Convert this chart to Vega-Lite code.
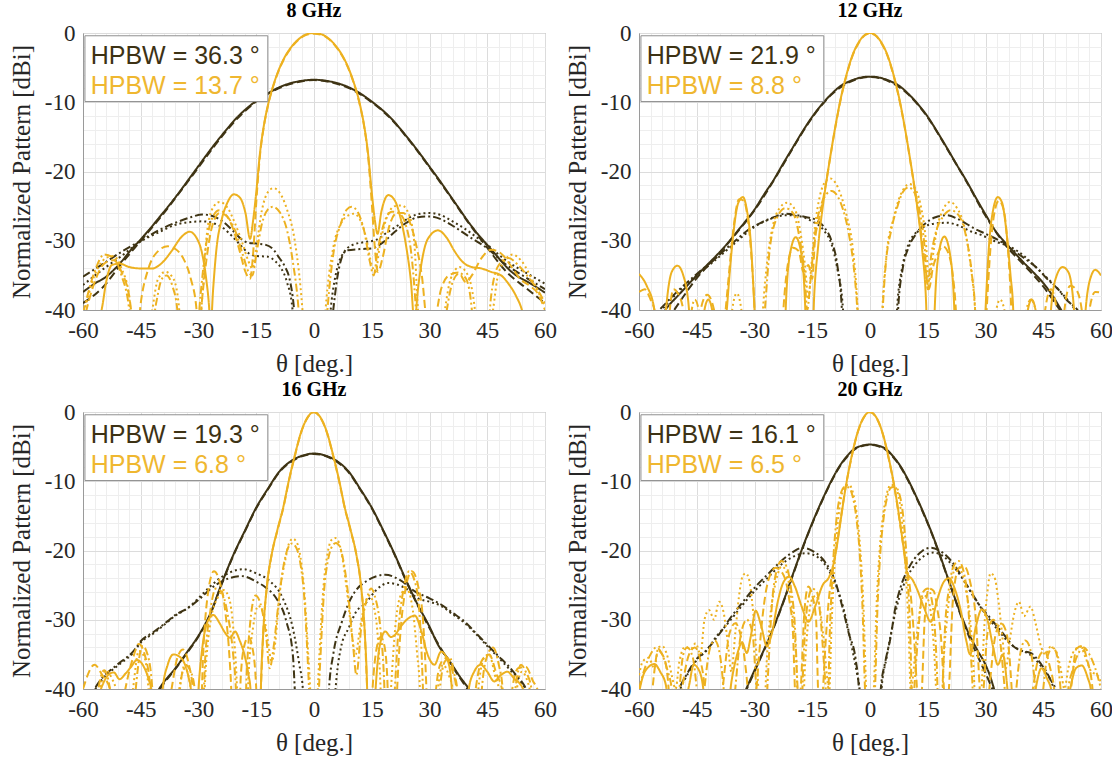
{
"$schema":"https://vega.github.io/schema/vega-lite/v6.json",
"background":"white",
"padding":{"left":8,"top":0,"right":2,"bottom":0},
"config":{"view":{"stroke":"#9a9a9a","strokeWidth":1},
"axis":{"labelFont":"Liberation Serif","labelFontSize":23,"titleFont":"Liberation Serif","titleFontSize":25,"titleFontWeight":"normal","labelColor":"#262626","titleColor":"#262626","domainColor":"#9a9a9a","ticks":false,"gridColor":"#dcdcdc","labelFlush":false,"labelOverlap":false},
"header":{"labelFont":"Liberation Serif","labelFontSize":20,"labelFontWeight":"bold","labelColor":"#000000","labelPadding":1,"title":null}},
"data":{"values":[
{"p":8,"s":"L1","txt":"HPBW = 36.3 °"},{"p":8,"s":"L2","txt":"HPBW = 13.7 °"},
{"p":12,"s":"L1","txt":"HPBW = 21.9 °"},{"p":12,"s":"L2","txt":"HPBW = 8.8 °"},
{"p":16,"s":"L1","txt":"HPBW = 19.3 °"},{"p":16,"s":"L2","txt":"HPBW = 6.8 °"},
{"p":20,"s":"L1","txt":"HPBW = 16.1 °"},{"p":20,"s":"L2","txt":"HPBW = 6.5 °"},

{"p":8,"s":"a","t":-60,"v":-37.4},{"p":8,"s":"a","t":-57,"v":-36.2},{"p":8,"s":"a","t":-54,"v":-35.2},{"p":8,"s":"a","t":-52,"v":-34.2},{"p":8,"s":"a","t":-50,"v":-33},{"p":8,"s":"a","t":-47.5,"v":-31.3},{"p":8,"s":"a","t":-45,"v":-29.8},{"p":8,"s":"a","t":-42.5,"v":-28.2},{"p":8,"s":"a","t":-40,"v":-26.5},{"p":8,"s":"a","t":-37.5,"v":-24.8},{"p":8,"s":"a","t":-35,"v":-23},{"p":8,"s":"a","t":-32.5,"v":-21.1},{"p":8,"s":"a","t":-30,"v":-19.2},{"p":8,"s":"a","t":-27.5,"v":-17.3},{"p":8,"s":"a","t":-25,"v":-15.5},{"p":8,"s":"a","t":-22.5,"v":-13.8},{"p":8,"s":"a","t":-20,"v":-12.2},{"p":8,"s":"a","t":-17.5,"v":-10.9},{"p":8,"s":"a","t":-15,"v":-9.8},{"p":8,"s":"a","t":-12.5,"v":-8.9},{"p":8,"s":"a","t":-10,"v":-8.1},{"p":8,"s":"a","t":-7.5,"v":-7.5},{"p":8,"s":"a","t":-5,"v":-7.1},{"p":8,"s":"a","t":-2.5,"v":-6.85},{"p":8,"s":"a","t":0,"v":-6.75},{"p":8,"s":"a","t":2.5,"v":-6.85},{"p":8,"s":"a","t":5,"v":-7.1},{"p":8,"s":"a","t":7.5,"v":-7.5},{"p":8,"s":"a","t":10,"v":-8.1},{"p":8,"s":"a","t":12.5,"v":-8.9},{"p":8,"s":"a","t":15,"v":-9.9},{"p":8,"s":"a","t":17.5,"v":-11},{"p":8,"s":"a","t":20,"v":-12.3},{"p":8,"s":"a","t":22.5,"v":-13.9},{"p":8,"s":"a","t":25,"v":-15.6},{"p":8,"s":"a","t":27.5,"v":-17.4},{"p":8,"s":"a","t":30,"v":-19.3},{"p":8,"s":"a","t":32.5,"v":-21.2},{"p":8,"s":"a","t":35,"v":-23.2},{"p":8,"s":"a","t":37.5,"v":-25.2},{"p":8,"s":"a","t":40,"v":-27.2},{"p":8,"s":"a","t":42.5,"v":-29},{"p":8,"s":"a","t":45,"v":-30.6},{"p":8,"s":"a","t":47.5,"v":-32.2},{"p":8,"s":"a","t":50,"v":-33.8},{"p":8,"s":"a","t":52.5,"v":-35},{"p":8,"s":"a","t":55,"v":-35.8},{"p":8,"s":"a","t":57.5,"v":-36.6},{"p":8,"s":"a","t":60,"v":-37.5},

{"p":8,"s":"b","t":-60,"v":-39},{"p":8,"s":"b","t":-55,"v":-36.8},{"p":8,"s":"b","t":-50,"v":-33.3},{"p":8,"s":"b","t":-45,"v":-30},{"p":8,"s":"b","t":-40,"v":-26.7},{"p":8,"s":"b","t":-35,"v":-23.1},{"p":8,"s":"b","t":-30,"v":-19.4},{"p":8,"s":"b","t":-25,"v":-15.7},{"p":8,"s":"b","t":-20,"v":-12.4},{"p":8,"s":"b","t":-15,"v":-9.9},{"p":8,"s":"b","t":-10,"v":-8.2},{"p":8,"s":"b","t":-5,"v":-7.2},{"p":8,"s":"b","t":0,"v":-6.8},{"p":8,"s":"b","t":5,"v":-7.2},{"p":8,"s":"b","t":10,"v":-8.2},{"p":8,"s":"b","t":15,"v":-10},{"p":8,"s":"b","t":20,"v":-12.4},{"p":8,"s":"b","t":25,"v":-15.7},{"p":8,"s":"b","t":30,"v":-19.4},{"p":8,"s":"b","t":35,"v":-23.3},{"p":8,"s":"b","t":40,"v":-27.3},{"p":8,"s":"b","t":45,"v":-31},{"p":8,"s":"b","t":50,"v":-34.5},{"p":8,"s":"b","t":55,"v":-36.8},{"p":8,"s":"b","t":60,"v":-39},

{"p":8,"s":"c","t":-60,"v":-35.2},{"p":8,"s":"c","t":-55,"v":-33.4},{"p":8,"s":"c","t":-50,"v":-31.6},{"p":8,"s":"c","t":-45,"v":-30},{"p":8,"s":"c","t":-40,"v":-28.4},{"p":8,"s":"c","t":-36,"v":-27.4},{"p":8,"s":"c","t":-32,"v":-26.6},{"p":8,"s":"c","t":-29,"v":-26.2},{"p":8,"s":"c","t":-26,"v":-26.5},{"p":8,"s":"c","t":-23.5,"v":-27.3},{"p":8,"s":"c","t":-21,"v":-28.6},{"p":8,"s":"c","t":-19,"v":-29.7},{"p":8,"s":"c","t":-17,"v":-30.3},{"p":8,"s":"c","t":-15,"v":-30.4},{"p":8,"s":"c","t":-12.5,"v":-30.6},{"p":8,"s":"c","t":-10.5,"v":-31.3},{"p":8,"s":"c","t":-9,"v":-32.5},{"p":8,"s":"c","t":-7.5,"v":-33.8},{"p":8,"s":"c","t":-6.4,"v":-35.4},{"p":8,"s":"c","t":-5.2,"v":-39.8},{"p":8,"s":"c","t":-4.5,"v":-45},{"p":8,"s":"c","t":4,"v":-45},{"p":8,"s":"c","t":5,"v":-40},{"p":8,"s":"c","t":6,"v":-35.5},{"p":8,"s":"c","t":7,"v":-32.8},{"p":8,"s":"c","t":8.5,"v":-31.4},{"p":8,"s":"c","t":12,"v":-31.2},{"p":8,"s":"c","t":15,"v":-31.1},{"p":8,"s":"c","t":18,"v":-30.2},{"p":8,"s":"c","t":21,"v":-28.7},{"p":8,"s":"c","t":24,"v":-27.4},{"p":8,"s":"c","t":27,"v":-26.6},{"p":8,"s":"c","t":30,"v":-26.5},{"p":8,"s":"c","t":33,"v":-26.9},{"p":8,"s":"c","t":36.5,"v":-28},{"p":8,"s":"c","t":40,"v":-29.3},{"p":8,"s":"c","t":45,"v":-31.1},{"p":8,"s":"c","t":50,"v":-33.5},{"p":8,"s":"c","t":55,"v":-35.3},{"p":8,"s":"c","t":60,"v":-37},

{"p":8,"s":"d","t":-60,"v":-36.4},{"p":8,"s":"d","t":-55,"v":-34.2},{"p":8,"s":"d","t":-50,"v":-32.2},{"p":8,"s":"d","t":-45,"v":-30.1},{"p":8,"s":"d","t":-40,"v":-28.7},{"p":8,"s":"d","t":-36,"v":-27.7},{"p":8,"s":"d","t":-32,"v":-27.3},{"p":8,"s":"d","t":-29,"v":-27.2},{"p":8,"s":"d","t":-26,"v":-27.5},{"p":8,"s":"d","t":-23.5,"v":-28.2},{"p":8,"s":"d","t":-21,"v":-29.5},{"p":8,"s":"d","t":-19,"v":-30.7},{"p":8,"s":"d","t":-17,"v":-31.8},{"p":8,"s":"d","t":-15,"v":-32.2},{"p":8,"s":"d","t":-12,"v":-32.3},{"p":8,"s":"d","t":-10,"v":-33},{"p":8,"s":"d","t":-8.5,"v":-34},{"p":8,"s":"d","t":-7,"v":-36},{"p":8,"s":"d","t":-5.6,"v":-39.8},{"p":8,"s":"d","t":-5,"v":-45},{"p":8,"s":"d","t":3.5,"v":-45},{"p":8,"s":"d","t":4.5,"v":-39},{"p":8,"s":"d","t":6,"v":-34},{"p":8,"s":"d","t":8,"v":-31.5},{"p":8,"s":"d","t":10,"v":-30.6},{"p":8,"s":"d","t":13,"v":-30.2},{"p":8,"s":"d","t":16,"v":-29.9},{"p":8,"s":"d","t":19,"v":-28.8},{"p":8,"s":"d","t":22,"v":-27.7},{"p":8,"s":"d","t":25,"v":-26.6},{"p":8,"s":"d","t":27.5,"v":-26.1},{"p":8,"s":"d","t":30,"v":-26},{"p":8,"s":"d","t":33,"v":-26.3},{"p":8,"s":"d","t":36,"v":-27.2},{"p":8,"s":"d","t":39,"v":-28.2},{"p":8,"s":"d","t":42,"v":-29.4},{"p":8,"s":"d","t":45,"v":-30.6},{"p":8,"s":"d","t":50,"v":-32.9},{"p":8,"s":"d","t":55,"v":-34.6},{"p":8,"s":"d","t":60,"v":-36.2},

{"p":8,"s":"e","t":-60,"v":-46},{"p":8,"s":"e","t":-56,"v":-42},{"p":8,"s":"e","t":-55,"v":-39.5},{"p":8,"s":"e","t":-54,"v":-36},{"p":8,"s":"e","t":-52.5,"v":-33.5},{"p":8,"s":"e","t":-50.5,"v":-33.3},{"p":8,"s":"e","t":-48,"v":-33.8},{"p":8,"s":"e","t":-45,"v":-34},{"p":8,"s":"e","t":-42,"v":-34},{"p":8,"s":"e","t":-39.5,"v":-33.2},{"p":8,"s":"e","t":-37,"v":-31.5},{"p":8,"s":"e","t":-34.5,"v":-29.5},{"p":8,"s":"e","t":-32.3,"v":-28.7},{"p":8,"s":"e","t":-30.5,"v":-29.6},{"p":8,"s":"e","t":-29,"v":-32},{"p":8,"s":"e","t":-28,"v":-35.5},{"p":8,"s":"e","t":-27.2,"v":-40},{"p":8,"s":"e","t":-26.9,"v":-43},{"p":8,"s":"e","t":-26.2,"v":-37},{"p":8,"s":"e","t":-25.3,"v":-31},{"p":8,"s":"e","t":-24,"v":-27},{"p":8,"s":"e","t":-22.5,"v":-24.5},{"p":8,"s":"e","t":-20.8,"v":-23.3},{"p":8,"s":"e","t":-19.2,"v":-23.8},{"p":8,"s":"e","t":-17.8,"v":-26},{"p":8,"s":"e","t":-16.6,"v":-29.7},{"p":8,"s":"e","t":-15.8,"v":-27},{"p":8,"s":"e","t":-15,"v":-23},{"p":8,"s":"e","t":-14,"v":-17.2},{"p":8,"s":"e","t":-13,"v":-13.3},{"p":8,"s":"e","t":-12,"v":-10.5},{"p":8,"s":"e","t":-10,"v":-6.6},{"p":8,"s":"e","t":-8,"v":-3.9},{"p":8,"s":"e","t":-6,"v":-2.1},{"p":8,"s":"e","t":-4,"v":-0.9},{"p":8,"s":"e","t":-2,"v":-0.2},{"p":8,"s":"e","t":0,"v":0},{"p":8,"s":"e","t":2,"v":-0.2},{"p":8,"s":"e","t":4,"v":-0.9},{"p":8,"s":"e","t":6,"v":-2.1},{"p":8,"s":"e","t":8,"v":-3.9},{"p":8,"s":"e","t":10,"v":-6.6},{"p":8,"s":"e","t":12,"v":-10.5},{"p":8,"s":"e","t":13,"v":-13.3},{"p":8,"s":"e","t":14,"v":-17.2},{"p":8,"s":"e","t":15,"v":-23},{"p":8,"s":"e","t":15.8,"v":-27},{"p":8,"s":"e","t":16.5,"v":-29},{"p":8,"s":"e","t":17.5,"v":-25.8},{"p":8,"s":"e","t":19.3,"v":-23.4},{"p":8,"s":"e","t":21,"v":-24.2},{"p":8,"s":"e","t":22.6,"v":-27},{"p":8,"s":"e","t":24,"v":-31},{"p":8,"s":"e","t":25.2,"v":-36},{"p":8,"s":"e","t":26.1,"v":-42},{"p":8,"s":"e","t":27,"v":-37},{"p":8,"s":"e","t":28,"v":-33},{"p":8,"s":"e","t":29.5,"v":-29.8},{"p":8,"s":"e","t":32.2,"v":-28.5},{"p":8,"s":"e","t":34.5,"v":-29.6},{"p":8,"s":"e","t":36.5,"v":-31.5},{"p":8,"s":"e","t":38.5,"v":-33},{"p":8,"s":"e","t":41,"v":-33.8},{"p":8,"s":"e","t":43.5,"v":-34},{"p":8,"s":"e","t":46,"v":-34.5},{"p":8,"s":"e","t":48.6,"v":-35},{"p":8,"s":"e","t":50.5,"v":-36.2},{"p":8,"s":"e","t":52.5,"v":-38},{"p":8,"s":"e","t":54,"v":-40},{"p":8,"s":"e","t":55.5,"v":-44},{"p":8,"s":"e","t":60,"v":-46},

{"p":8,"s":"f","t":-60,"v":-42},{"p":8,"s":"f","t":-57,"v":-36},{"p":8,"s":"f","t":-54.5,"v":-33.3},{"p":8,"s":"f","t":-52,"v":-32.8},{"p":8,"s":"f","t":-50,"v":-34.5},{"p":8,"s":"f","t":-48,"v":-38},{"p":8,"s":"f","t":-47,"v":-42},{"p":8,"s":"f","t":-46,"v":-44},{"p":8,"s":"f","t":-45,"v":-39},{"p":8,"s":"f","t":-43,"v":-34},{"p":8,"s":"f","t":-40.5,"v":-31.5},{"p":8,"s":"f","t":-38,"v":-30.8},{"p":8,"s":"f","t":-36,"v":-31.2},{"p":8,"s":"f","t":-34,"v":-32.5},{"p":8,"s":"f","t":-32,"v":-35.5},{"p":8,"s":"f","t":-30.5,"v":-40},{"p":8,"s":"f","t":-30,"v":-44},{"p":8,"s":"f","t":-29,"v":-38},{"p":8,"s":"f","t":-28,"v":-33},{"p":8,"s":"f","t":-26.5,"v":-28},{"p":8,"s":"f","t":-24.5,"v":-26},{"p":8,"s":"f","t":-22.8,"v":-26.4},{"p":8,"s":"f","t":-21,"v":-28.3},{"p":8,"s":"f","t":-19.3,"v":-31.5},{"p":8,"s":"f","t":-17.8,"v":-34.5},{"p":8,"s":"f","t":-16.6,"v":-35.5},{"p":8,"s":"f","t":-15.7,"v":-31},{"p":8,"s":"f","t":-15,"v":-24.5},{"p":8,"s":"f","t":-14,"v":-17.5},{"p":8,"s":"f","t":-13,"v":-13.4},{"p":8,"s":"f","t":-12,"v":-10.6},{"p":8,"s":"f","t":-10,"v":-6.7},{"p":8,"s":"f","t":-8,"v":-4},{"p":8,"s":"f","t":-6,"v":-2.2},{"p":8,"s":"f","t":-4,"v":-0.95},{"p":8,"s":"f","t":-2,"v":-0.25},{"p":8,"s":"f","t":0,"v":-0.1},{"p":8,"s":"f","t":2,"v":-0.25},{"p":8,"s":"f","t":4,"v":-0.95},{"p":8,"s":"f","t":6,"v":-2.2},{"p":8,"s":"f","t":8,"v":-4},{"p":8,"s":"f","t":10,"v":-6.7},{"p":8,"s":"f","t":12,"v":-10.6},{"p":8,"s":"f","t":13,"v":-13.4},{"p":8,"s":"f","t":14,"v":-17.5},{"p":8,"s":"f","t":15,"v":-24.5},{"p":8,"s":"f","t":15.8,"v":-31},{"p":8,"s":"f","t":16.6,"v":-34.5},{"p":8,"s":"f","t":17.8,"v":-32.5},{"p":8,"s":"f","t":19.5,"v":-28},{"p":8,"s":"f","t":21.5,"v":-26},{"p":8,"s":"f","t":23.2,"v":-26},{"p":8,"s":"f","t":25,"v":-27.5},{"p":8,"s":"f","t":26.5,"v":-30.5},{"p":8,"s":"f","t":28,"v":-35},{"p":8,"s":"f","t":29.5,"v":-42},{"p":8,"s":"f","t":31,"v":-42},{"p":8,"s":"f","t":33,"v":-37},{"p":8,"s":"f","t":35,"v":-35},{"p":8,"s":"f","t":37.5,"v":-34.6},{"p":8,"s":"f","t":39.5,"v":-36},{"p":8,"s":"f","t":41,"v":-35},{"p":8,"s":"f","t":43.5,"v":-32.5},{"p":8,"s":"f","t":46,"v":-31.3},{"p":8,"s":"f","t":48.5,"v":-31.8},{"p":8,"s":"f","t":51,"v":-33.5},{"p":8,"s":"f","t":53.5,"v":-35.5},{"p":8,"s":"f","t":56,"v":-36.5},{"p":8,"s":"f","t":58,"v":-37.5},{"p":8,"s":"f","t":60,"v":-40},

{"p":8,"s":"g","t":-60,"v":-40.5},{"p":8,"s":"g","t":-57,"v":-34.5},{"p":8,"s":"g","t":-54.5,"v":-32},{"p":8,"s":"g","t":-52,"v":-32.5},{"p":8,"s":"g","t":-50,"v":-35},{"p":8,"s":"g","t":-48,"v":-40},{"p":8,"s":"g","t":-47.5,"v":-44},{"p":8,"s":"g","t":-42.5,"v":-44},{"p":8,"s":"g","t":-41,"v":-39},{"p":8,"s":"g","t":-39.5,"v":-35.5},{"p":8,"s":"g","t":-38.3,"v":-35},{"p":8,"s":"g","t":-36.8,"v":-36.5},{"p":8,"s":"g","t":-35.5,"v":-40},{"p":8,"s":"g","t":-35,"v":-44},{"p":8,"s":"g","t":-30.5,"v":-44},{"p":8,"s":"g","t":-29.5,"v":-38},{"p":8,"s":"g","t":-28,"v":-30.5},{"p":8,"s":"g","t":-26.5,"v":-26.8},{"p":8,"s":"g","t":-24.6,"v":-25.6},{"p":8,"s":"g","t":-22.5,"v":-26.5},{"p":8,"s":"g","t":-20.5,"v":-28.5},{"p":8,"s":"g","t":-18.5,"v":-32},{"p":8,"s":"g","t":-17,"v":-34.5},{"p":8,"s":"g","t":-16,"v":-35},{"p":8,"s":"g","t":-15,"v":-32},{"p":8,"s":"g","t":-13.5,"v":-27.5},{"p":8,"s":"g","t":-12,"v":-25.5},{"p":8,"s":"g","t":-10.7,"v":-25.1},{"p":8,"s":"g","t":-9,"v":-25.8},{"p":8,"s":"g","t":-7,"v":-28.5},{"p":8,"s":"g","t":-5.5,"v":-33},{"p":8,"s":"g","t":-4,"v":-40},{"p":8,"s":"g","t":-3.5,"v":-44},{"p":8,"s":"g","t":3,"v":-44},{"p":8,"s":"g","t":3.5,"v":-40},{"p":8,"s":"g","t":5,"v":-32},{"p":8,"s":"g","t":7,"v":-27.5},{"p":8,"s":"g","t":8.5,"v":-25.5},{"p":8,"s":"g","t":9.8,"v":-25.1},{"p":8,"s":"g","t":11.5,"v":-26},{"p":8,"s":"g","t":13,"v":-28.5},{"p":8,"s":"g","t":14.5,"v":-33},{"p":8,"s":"g","t":15.5,"v":-35},{"p":8,"s":"g","t":16.5,"v":-31.5},{"p":8,"s":"g","t":18.5,"v":-27},{"p":8,"s":"g","t":20.2,"v":-25.8},{"p":8,"s":"g","t":22,"v":-26},{"p":8,"s":"g","t":24,"v":-28},{"p":8,"s":"g","t":25.5,"v":-33},{"p":8,"s":"g","t":26.5,"v":-40},{"p":8,"s":"g","t":27,"v":-44},{"p":8,"s":"g","t":33.5,"v":-44},{"p":8,"s":"g","t":34.5,"v":-40},{"p":8,"s":"g","t":36,"v":-36},{"p":8,"s":"g","t":37.8,"v":-34.7},{"p":8,"s":"g","t":39.5,"v":-35.5},{"p":8,"s":"g","t":41,"v":-40},{"p":8,"s":"g","t":41.5,"v":-44},{"p":8,"s":"g","t":45,"v":-44},{"p":8,"s":"g","t":46,"v":-38},{"p":8,"s":"g","t":48,"v":-33.5},{"p":8,"s":"g","t":50.5,"v":-32.5},{"p":8,"s":"g","t":53,"v":-33.5},{"p":8,"s":"g","t":56,"v":-35.5},{"p":8,"s":"g","t":58,"v":-37},{"p":8,"s":"g","t":60,"v":-39},

{"p":8,"s":"h","t":-60,"v":-41},{"p":8,"s":"h","t":-57,"v":-35},{"p":8,"s":"h","t":-54,"v":-32.5},{"p":8,"s":"h","t":-52,"v":-32.2},{"p":8,"s":"h","t":-50,"v":-34},{"p":8,"s":"h","t":-48,"v":-38},{"p":8,"s":"h","t":-47,"v":-44},{"p":8,"s":"h","t":-43,"v":-44},{"p":8,"s":"h","t":-42,"v":-40},{"p":8,"s":"h","t":-40.5,"v":-35.5},{"p":8,"s":"h","t":-38.6,"v":-34.5},{"p":8,"s":"h","t":-36.5,"v":-35.5},{"p":8,"s":"h","t":-35,"v":-40},{"p":8,"s":"h","t":-34.5,"v":-44},{"p":8,"s":"h","t":-30,"v":-44},{"p":8,"s":"h","t":-29,"v":-38},{"p":8,"s":"h","t":-28,"v":-30},{"p":8,"s":"h","t":-26.5,"v":-25.5},{"p":8,"s":"h","t":-24.5,"v":-24.4},{"p":8,"s":"h","t":-22.5,"v":-25.2},{"p":8,"s":"h","t":-20.5,"v":-27.5},{"p":8,"s":"h","t":-18.5,"v":-30.5},{"p":8,"s":"h","t":-17,"v":-33},{"p":8,"s":"h","t":-16,"v":-34},{"p":8,"s":"h","t":-15,"v":-31},{"p":8,"s":"h","t":-13.5,"v":-25.5},{"p":8,"s":"h","t":-12,"v":-23},{"p":8,"s":"h","t":-10.5,"v":-22.4},{"p":8,"s":"h","t":-9,"v":-23},{"p":8,"s":"h","t":-7,"v":-25.5},{"p":8,"s":"h","t":-5,"v":-30},{"p":8,"s":"h","t":-3,"v":-40},{"p":8,"s":"h","t":-2.5,"v":-44},{"p":8,"s":"h","t":2.5,"v":-44},{"p":8,"s":"h","t":3,"v":-40},{"p":8,"s":"h","t":5,"v":-31},{"p":8,"s":"h","t":7,"v":-27.5},{"p":8,"s":"h","t":9,"v":-26.3},{"p":8,"s":"h","t":10.3,"v":-26.1},{"p":8,"s":"h","t":12,"v":-27},{"p":8,"s":"h","t":13.5,"v":-29.5},{"p":8,"s":"h","t":15,"v":-33.5},{"p":8,"s":"h","t":16,"v":-34.5},{"p":8,"s":"h","t":17,"v":-31},{"p":8,"s":"h","t":19,"v":-26.5},{"p":8,"s":"h","t":21,"v":-25},{"p":8,"s":"h","t":22.8,"v":-24.9},{"p":8,"s":"h","t":24.5,"v":-26},{"p":8,"s":"h","t":26,"v":-30},{"p":8,"s":"h","t":27,"v":-40},{"p":8,"s":"h","t":27.5,"v":-44},{"p":8,"s":"h","t":33,"v":-44},{"p":8,"s":"h","t":34,"v":-40},{"p":8,"s":"h","t":35.5,"v":-35.5},{"p":8,"s":"h","t":37.8,"v":-33.8},{"p":8,"s":"h","t":40,"v":-35},{"p":8,"s":"h","t":41.8,"v":-40},{"p":8,"s":"h","t":42.5,"v":-44},{"p":8,"s":"h","t":45.5,"v":-44},{"p":8,"s":"h","t":46.5,"v":-40},{"p":8,"s":"h","t":48,"v":-34.5},{"p":8,"s":"h","t":51.6,"v":-32},{"p":8,"s":"h","t":54,"v":-33},{"p":8,"s":"h","t":57,"v":-36},{"p":8,"s":"h","t":60,"v":-39.5},

{"p":12,"s":"a","t":-60,"v":-45},{"p":12,"s":"a","t":-55,"v":-41.5},{"p":12,"s":"a","t":-52.5,"v":-39.5},{"p":12,"s":"a","t":-50,"v":-38},{"p":12,"s":"a","t":-47.5,"v":-36.5},{"p":12,"s":"a","t":-45,"v":-35},{"p":12,"s":"a","t":-42.5,"v":-33.6},{"p":12,"s":"a","t":-40,"v":-32.2},{"p":12,"s":"a","t":-37.5,"v":-30.7},{"p":12,"s":"a","t":-35,"v":-29},{"p":12,"s":"a","t":-32.5,"v":-27.3},{"p":12,"s":"a","t":-30,"v":-25.5},{"p":12,"s":"a","t":-27.5,"v":-23.3},{"p":12,"s":"a","t":-25,"v":-21.2},{"p":12,"s":"a","t":-22.5,"v":-18.8},{"p":12,"s":"a","t":-20,"v":-16.5},{"p":12,"s":"a","t":-17.5,"v":-14.2},{"p":12,"s":"a","t":-15,"v":-12.1},{"p":12,"s":"a","t":-12.5,"v":-10.3},{"p":12,"s":"a","t":-10,"v":-8.8},{"p":12,"s":"a","t":-7.5,"v":-7.6},{"p":12,"s":"a","t":-5,"v":-6.9},{"p":12,"s":"a","t":-2.5,"v":-6.45},{"p":12,"s":"a","t":0,"v":-6.3},{"p":12,"s":"a","t":2.5,"v":-6.45},{"p":12,"s":"a","t":5,"v":-6.9},{"p":12,"s":"a","t":7.5,"v":-7.6},{"p":12,"s":"a","t":10,"v":-8.8},{"p":12,"s":"a","t":12.5,"v":-10.3},{"p":12,"s":"a","t":15,"v":-12.1},{"p":12,"s":"a","t":17.5,"v":-14.3},{"p":12,"s":"a","t":20,"v":-16.6},{"p":12,"s":"a","t":22.5,"v":-19},{"p":12,"s":"a","t":25,"v":-21.3},{"p":12,"s":"a","t":27.5,"v":-23.8},{"p":12,"s":"a","t":30,"v":-26.2},{"p":12,"s":"a","t":32.5,"v":-28.5},{"p":12,"s":"a","t":35,"v":-30.2},{"p":12,"s":"a","t":37.5,"v":-31.7},{"p":12,"s":"a","t":40,"v":-33.2},{"p":12,"s":"a","t":42.5,"v":-34.6},{"p":12,"s":"a","t":45,"v":-36.1},{"p":12,"s":"a","t":47.5,"v":-38},{"p":12,"s":"a","t":50,"v":-40.3},{"p":12,"s":"a","t":52.5,"v":-42.5},{"p":12,"s":"a","t":55,"v":-44},

{"p":12,"s":"b","t":-60,"v":-47},{"p":12,"s":"b","t":-55,"v":-43.5},{"p":12,"s":"b","t":-50,"v":-39.3},{"p":12,"s":"b","t":-45,"v":-35.4},{"p":12,"s":"b","t":-40,"v":-32.4},{"p":12,"s":"b","t":-35,"v":-29.1},{"p":12,"s":"b","t":-30,"v":-25.6},{"p":12,"s":"b","t":-25,"v":-21.3},{"p":12,"s":"b","t":-20,"v":-16.6},{"p":12,"s":"b","t":-15,"v":-12.2},{"p":12,"s":"b","t":-10,"v":-8.9},{"p":12,"s":"b","t":-5,"v":-7},{"p":12,"s":"b","t":0,"v":-6.35},{"p":12,"s":"b","t":5,"v":-7},{"p":12,"s":"b","t":10,"v":-8.9},{"p":12,"s":"b","t":15,"v":-12.2},{"p":12,"s":"b","t":20,"v":-16.7},{"p":12,"s":"b","t":25,"v":-21.4},{"p":12,"s":"b","t":30,"v":-26.4},{"p":12,"s":"b","t":35,"v":-30.5},{"p":12,"s":"b","t":40,"v":-33.5},{"p":12,"s":"b","t":45,"v":-36.6},{"p":12,"s":"b","t":50,"v":-40.5},{"p":12,"s":"b","t":55,"v":-44},

{"p":12,"s":"c","t":-60,"v":-46},{"p":12,"s":"c","t":-56,"v":-41},{"p":12,"s":"c","t":-53,"v":-39},{"p":12,"s":"c","t":-50,"v":-37.3},{"p":12,"s":"c","t":-45,"v":-34.8},{"p":12,"s":"c","t":-40,"v":-32.5},{"p":12,"s":"c","t":-37.5,"v":-31.2},{"p":12,"s":"c","t":-35,"v":-30},{"p":12,"s":"c","t":-32,"v":-28.6},{"p":12,"s":"c","t":-28,"v":-27.3},{"p":12,"s":"c","t":-25,"v":-26.6},{"p":12,"s":"c","t":-22,"v":-26.1},{"p":12,"s":"c","t":-19,"v":-26.3},{"p":12,"s":"c","t":-16.5,"v":-26.6},{"p":12,"s":"c","t":-14,"v":-27},{"p":12,"s":"c","t":-12,"v":-28},{"p":12,"s":"c","t":-10,"v":-30},{"p":12,"s":"c","t":-8.5,"v":-33.5},{"p":12,"s":"c","t":-7.3,"v":-40},{"p":12,"s":"c","t":-7,"v":-45},{"p":12,"s":"c","t":7,"v":-45},{"p":12,"s":"c","t":7.3,"v":-40},{"p":12,"s":"c","t":8.5,"v":-34},{"p":12,"s":"c","t":10,"v":-31},{"p":12,"s":"c","t":12,"v":-29},{"p":12,"s":"c","t":14,"v":-27.7},{"p":12,"s":"c","t":17,"v":-26.6},{"p":12,"s":"c","t":20,"v":-26.3},{"p":12,"s":"c","t":23,"v":-26.9},{"p":12,"s":"c","t":27,"v":-28.2},{"p":12,"s":"c","t":30,"v":-29},{"p":12,"s":"c","t":33,"v":-29.8},{"p":12,"s":"c","t":36.5,"v":-31.1},{"p":12,"s":"c","t":40,"v":-32.5},{"p":12,"s":"c","t":43.5,"v":-34},{"p":12,"s":"c","t":46,"v":-35.5},{"p":12,"s":"c","t":48.7,"v":-36.9},{"p":12,"s":"c","t":51,"v":-38.5},{"p":12,"s":"c","t":53.9,"v":-40},{"p":12,"s":"c","t":56,"v":-42},

{"p":12,"s":"d","t":-60,"v":-46},{"p":12,"s":"d","t":-56,"v":-41.3},{"p":12,"s":"d","t":-53,"v":-39.3},{"p":12,"s":"d","t":-50,"v":-37.5},{"p":12,"s":"d","t":-45,"v":-35},{"p":12,"s":"d","t":-40,"v":-32.7},{"p":12,"s":"d","t":-35,"v":-30.3},{"p":12,"s":"d","t":-30,"v":-28},{"p":12,"s":"d","t":-25,"v":-26.7},{"p":12,"s":"d","t":-22,"v":-26.3},{"p":12,"s":"d","t":-18,"v":-26.5},{"p":12,"s":"d","t":-15,"v":-27.2},{"p":12,"s":"d","t":-12,"v":-28.5},{"p":12,"s":"d","t":-10,"v":-30.5},{"p":12,"s":"d","t":-8.5,"v":-34},{"p":12,"s":"d","t":-7,"v":-40},{"p":12,"s":"d","t":-6.5,"v":-45},{"p":12,"s":"d","t":6.5,"v":-45},{"p":12,"s":"d","t":7,"v":-40},{"p":12,"s":"d","t":8.5,"v":-33.5},{"p":12,"s":"d","t":10,"v":-30.5},{"p":12,"s":"d","t":12,"v":-28.8},{"p":12,"s":"d","t":14,"v":-28},{"p":12,"s":"d","t":17,"v":-27.5},{"p":12,"s":"d","t":20,"v":-27.4},{"p":12,"s":"d","t":23,"v":-27.8},{"p":12,"s":"d","t":26,"v":-28.6},{"p":12,"s":"d","t":29,"v":-29.2},{"p":12,"s":"d","t":33,"v":-30.2},{"p":12,"s":"d","t":36.5,"v":-30.9},{"p":12,"s":"d","t":40,"v":-32.2},{"p":12,"s":"d","t":44,"v":-34.3},{"p":12,"s":"d","t":48,"v":-36.5},{"p":12,"s":"d","t":52,"v":-39},{"p":12,"s":"d","t":54,"v":-40.5},{"p":12,"s":"d","t":56,"v":-42},

{"p":12,"s":"e","t":-60,"v":-34.8},{"p":12,"s":"e","t":-58,"v":-36.5},{"p":12,"s":"e","t":-56,"v":-40},{"p":12,"s":"e","t":-55.3,"v":-45},{"p":12,"s":"e","t":-53.7,"v":-45},{"p":12,"s":"e","t":-53,"v":-40},{"p":12,"s":"e","t":-51.5,"v":-34.5},{"p":12,"s":"e","t":-50,"v":-33.6},{"p":12,"s":"e","t":-48.5,"v":-35},{"p":12,"s":"e","t":-47,"v":-40},{"p":12,"s":"e","t":-46.4,"v":-45},{"p":12,"s":"e","t":-44,"v":-45},{"p":12,"s":"e","t":-43,"v":-40},{"p":12,"s":"e","t":-42,"v":-38.5},{"p":12,"s":"e","t":-41,"v":-40},{"p":12,"s":"e","t":-40.4,"v":-45},{"p":12,"s":"e","t":-38,"v":-45},{"p":12,"s":"e","t":-37.2,"v":-40},{"p":12,"s":"e","t":-36.5,"v":-35},{"p":12,"s":"e","t":-35.5,"v":-29},{"p":12,"s":"e","t":-34.2,"v":-24.5},{"p":12,"s":"e","t":-33,"v":-23.7},{"p":12,"s":"e","t":-32,"v":-25.5},{"p":12,"s":"e","t":-31,"v":-30},{"p":12,"s":"e","t":-30,"v":-40},{"p":12,"s":"e","t":-29.6,"v":-45},{"p":12,"s":"e","t":-22.2,"v":-45},{"p":12,"s":"e","t":-21.9,"v":-40},{"p":12,"s":"e","t":-20.8,"v":-32},{"p":12,"s":"e","t":-19.3,"v":-29.5},{"p":12,"s":"e","t":-17.8,"v":-32},{"p":12,"s":"e","t":-16.8,"v":-40},{"p":12,"s":"e","t":-16.5,"v":-45},{"p":12,"s":"e","t":-15,"v":-45},{"p":12,"s":"e","t":-14.5,"v":-38},{"p":12,"s":"e","t":-13.5,"v":-31},{"p":12,"s":"e","t":-12,"v":-24},{"p":12,"s":"e","t":-10.5,"v":-18.5},{"p":12,"s":"e","t":-9,"v":-13.5},{"p":12,"s":"e","t":-7.5,"v":-9.2},{"p":12,"s":"e","t":-6,"v":-5.8},{"p":12,"s":"e","t":-4.4,"v":-3},{"p":12,"s":"e","t":-3,"v":-1.4},{"p":12,"s":"e","t":-1.5,"v":-0.35},{"p":12,"s":"e","t":0,"v":0},{"p":12,"s":"e","t":1.5,"v":-0.35},{"p":12,"s":"e","t":3,"v":-1.4},{"p":12,"s":"e","t":4.4,"v":-3},{"p":12,"s":"e","t":6,"v":-5.8},{"p":12,"s":"e","t":7.5,"v":-9.2},{"p":12,"s":"e","t":9,"v":-13.5},{"p":12,"s":"e","t":10.5,"v":-18.5},{"p":12,"s":"e","t":12,"v":-24},{"p":12,"s":"e","t":13.5,"v":-31},{"p":12,"s":"e","t":14.5,"v":-38},{"p":12,"s":"e","t":15,"v":-45},{"p":12,"s":"e","t":16.5,"v":-45},{"p":12,"s":"e","t":16.8,"v":-40},{"p":12,"s":"e","t":17.8,"v":-32},{"p":12,"s":"e","t":19.3,"v":-29.4},{"p":12,"s":"e","t":20.8,"v":-32},{"p":12,"s":"e","t":21.9,"v":-40},{"p":12,"s":"e","t":22.2,"v":-45},{"p":12,"s":"e","t":29.6,"v":-45},{"p":12,"s":"e","t":30,"v":-40},{"p":12,"s":"e","t":31,"v":-30},{"p":12,"s":"e","t":32,"v":-25.5},{"p":12,"s":"e","t":33.2,"v":-23.7},{"p":12,"s":"e","t":34.3,"v":-24.5},{"p":12,"s":"e","t":35.5,"v":-29},{"p":12,"s":"e","t":36.5,"v":-35},{"p":12,"s":"e","t":37.2,"v":-40},{"p":12,"s":"e","t":37.5,"v":-45},{"p":12,"s":"e","t":40,"v":-45},{"p":12,"s":"e","t":41,"v":-40},{"p":12,"s":"e","t":42,"v":-38.5},{"p":12,"s":"e","t":43,"v":-40},{"p":12,"s":"e","t":43.5,"v":-45},{"p":12,"s":"e","t":46.5,"v":-45},{"p":12,"s":"e","t":47,"v":-40},{"p":12,"s":"e","t":48.5,"v":-35},{"p":12,"s":"e","t":50,"v":-33.8},{"p":12,"s":"e","t":51.5,"v":-34.5},{"p":12,"s":"e","t":53,"v":-40},{"p":12,"s":"e","t":53.5,"v":-45},{"p":12,"s":"e","t":55.5,"v":-45},{"p":12,"s":"e","t":56,"v":-40},{"p":12,"s":"e","t":57.5,"v":-35},{"p":12,"s":"e","t":58.5,"v":-34.2},{"p":12,"s":"e","t":60,"v":-35},

{"p":12,"s":"f","t":-60,"v":-37.4},{"p":12,"s":"f","t":-58.5,"v":-37},{"p":12,"s":"f","t":-57,"v":-38.5},{"p":12,"s":"f","t":-56,"v":-40},{"p":12,"s":"f","t":-55.5,"v":-45},{"p":12,"s":"f","t":-52.5,"v":-45},{"p":12,"s":"f","t":-52,"v":-40},{"p":12,"s":"f","t":-51,"v":-37},{"p":12,"s":"f","t":-50,"v":-37.5},{"p":12,"s":"f","t":-48.5,"v":-40},{"p":12,"s":"f","t":-48,"v":-45},{"p":12,"s":"f","t":-45,"v":-45},{"p":12,"s":"f","t":-44,"v":-40},{"p":12,"s":"f","t":-42.3,"v":-37.8},{"p":12,"s":"f","t":-40.5,"v":-40},{"p":12,"s":"f","t":-40,"v":-45},{"p":12,"s":"f","t":-38.3,"v":-45},{"p":12,"s":"f","t":-37.5,"v":-40},{"p":12,"s":"f","t":-36.5,"v":-34},{"p":12,"s":"f","t":-35.3,"v":-27.5},{"p":12,"s":"f","t":-34,"v":-24},{"p":12,"s":"f","t":-32.8,"v":-24.2},{"p":12,"s":"f","t":-31.7,"v":-27},{"p":12,"s":"f","t":-30.7,"v":-33},{"p":12,"s":"f","t":-30,"v":-40},{"p":12,"s":"f","t":-29.7,"v":-45},{"p":12,"s":"f","t":-23,"v":-45},{"p":12,"s":"f","t":-22.5,"v":-40},{"p":12,"s":"f","t":-21.5,"v":-34},{"p":12,"s":"f","t":-20,"v":-31},{"p":12,"s":"f","t":-18.5,"v":-31.5},{"p":12,"s":"f","t":-17.3,"v":-34.5},{"p":12,"s":"f","t":-16,"v":-33.5},{"p":12,"s":"f","t":-15,"v":-35.5},{"p":12,"s":"f","t":-14.3,"v":-30},{"p":12,"s":"f","t":-13.3,"v":-27},{"p":12,"s":"f","t":-12,"v":-23.5},{"p":12,"s":"f","t":-10.5,"v":-18.5},{"p":12,"s":"f","t":-9,"v":-13.6},{"p":12,"s":"f","t":-7.5,"v":-9.3},{"p":12,"s":"f","t":-6,"v":-5.9},{"p":12,"s":"f","t":-4.4,"v":-3.1},{"p":12,"s":"f","t":-3,"v":-1.5},{"p":12,"s":"f","t":-1.5,"v":-0.4},{"p":12,"s":"f","t":0,"v":-0.05},{"p":12,"s":"f","t":1.5,"v":-0.4},{"p":12,"s":"f","t":3,"v":-1.5},{"p":12,"s":"f","t":4.4,"v":-3.1},{"p":12,"s":"f","t":6,"v":-5.9},{"p":12,"s":"f","t":7.5,"v":-9.3},{"p":12,"s":"f","t":9,"v":-13.6},{"p":12,"s":"f","t":10.5,"v":-18.6},{"p":12,"s":"f","t":12,"v":-24},{"p":12,"s":"f","t":13.3,"v":-29},{"p":12,"s":"f","t":14.3,"v":-33.5},{"p":12,"s":"f","t":15.3,"v":-37},{"p":12,"s":"f","t":16.3,"v":-34},{"p":12,"s":"f","t":17.5,"v":-32},{"p":12,"s":"f","t":19,"v":-30.8},{"p":12,"s":"f","t":20.5,"v":-32},{"p":12,"s":"f","t":21.5,"v":-35},{"p":12,"s":"f","t":22.3,"v":-40},{"p":12,"s":"f","t":22.7,"v":-45},{"p":12,"s":"f","t":29.8,"v":-45},{"p":12,"s":"f","t":30.3,"v":-40},{"p":12,"s":"f","t":31.3,"v":-31},{"p":12,"s":"f","t":32.3,"v":-26},{"p":12,"s":"f","t":33.5,"v":-24.2},{"p":12,"s":"f","t":34.7,"v":-25.5},{"p":12,"s":"f","t":35.8,"v":-31},{"p":12,"s":"f","t":36.7,"v":-40},{"p":12,"s":"f","t":37,"v":-45},{"p":12,"s":"f","t":45,"v":-45},{"p":12,"s":"f","t":45.5,"v":-40},{"p":12,"s":"f","t":47,"v":-37},{"p":12,"s":"f","t":48.5,"v":-40},{"p":12,"s":"f","t":49,"v":-45},{"p":12,"s":"f","t":50,"v":-45},{"p":12,"s":"f","t":50.5,"v":-40},{"p":12,"s":"f","t":52,"v":-36.5},{"p":12,"s":"f","t":53.5,"v":-37},{"p":12,"s":"f","t":55,"v":-40},{"p":12,"s":"f","t":55.5,"v":-45},{"p":12,"s":"f","t":56.5,"v":-45},{"p":12,"s":"f","t":57,"v":-40},{"p":12,"s":"f","t":58.5,"v":-37.4},{"p":12,"s":"f","t":60,"v":-37.5},

{"p":12,"s":"g","t":-60,"v":-45},{"p":12,"s":"g","t":-47,"v":-45},{"p":12,"s":"g","t":-46.3,"v":-40},{"p":12,"s":"g","t":-45.5,"v":-38.5},{"p":12,"s":"g","t":-44.5,"v":-40},{"p":12,"s":"g","t":-44,"v":-45},{"p":12,"s":"g","t":-28,"v":-45},{"p":12,"s":"g","t":-27.3,"v":-40},{"p":12,"s":"g","t":-26,"v":-31},{"p":12,"s":"g","t":-24,"v":-26.5},{"p":12,"s":"g","t":-22,"v":-25.3},{"p":12,"s":"g","t":-20,"v":-26},{"p":12,"s":"g","t":-18.5,"v":-29},{"p":12,"s":"g","t":-17,"v":-35},{"p":12,"s":"g","t":-16.3,"v":-40},{"p":12,"s":"g","t":-15.5,"v":-36},{"p":12,"s":"g","t":-14.3,"v":-29},{"p":12,"s":"g","t":-12.8,"v":-25},{"p":12,"s":"g","t":-11.2,"v":-23.2},{"p":12,"s":"g","t":-10,"v":-22.8},{"p":12,"s":"g","t":-8.5,"v":-23.5},{"p":12,"s":"g","t":-7,"v":-25.5},{"p":12,"s":"g","t":-5.5,"v":-29},{"p":12,"s":"g","t":-4,"v":-35},{"p":12,"s":"g","t":-3.3,"v":-40},{"p":12,"s":"g","t":-2.9,"v":-45},{"p":12,"s":"g","t":2.9,"v":-45},{"p":12,"s":"g","t":3.3,"v":-40},{"p":12,"s":"g","t":4,"v":-34},{"p":12,"s":"g","t":5.5,"v":-28.5},{"p":12,"s":"g","t":7,"v":-25.3},{"p":12,"s":"g","t":8.5,"v":-23},{"p":12,"s":"g","t":10,"v":-22.3},{"p":12,"s":"g","t":11.5,"v":-23},{"p":12,"s":"g","t":13,"v":-26},{"p":12,"s":"g","t":14.2,"v":-31},{"p":12,"s":"g","t":15,"v":-37},{"p":12,"s":"g","t":15.7,"v":-33},{"p":12,"s":"g","t":17,"v":-29},{"p":12,"s":"g","t":19,"v":-26.5},{"p":12,"s":"g","t":21,"v":-25.6},{"p":12,"s":"g","t":23,"v":-26.3},{"p":12,"s":"g","t":25,"v":-29.5},{"p":12,"s":"g","t":26.5,"v":-35},{"p":12,"s":"g","t":27.3,"v":-40},{"p":12,"s":"g","t":27.6,"v":-45},{"p":12,"s":"g","t":40,"v":-45},{"p":12,"s":"g","t":40.6,"v":-40},{"p":12,"s":"g","t":41.8,"v":-38.5},{"p":12,"s":"g","t":43,"v":-40},{"p":12,"s":"g","t":43.5,"v":-45},{"p":12,"s":"g","t":60,"v":-45},

{"p":12,"s":"h","t":-60,"v":-45},{"p":12,"s":"h","t":-36.3,"v":-45},{"p":12,"s":"h","t":-35.8,"v":-40},{"p":12,"s":"h","t":-34.6,"v":-37.6},{"p":12,"s":"h","t":-33.4,"v":-40},{"p":12,"s":"h","t":-33,"v":-45},{"p":12,"s":"h","t":-28.3,"v":-45},{"p":12,"s":"h","t":-27.8,"v":-40},{"p":12,"s":"h","t":-26.7,"v":-33},{"p":12,"s":"h","t":-25.3,"v":-28},{"p":12,"s":"h","t":-23.5,"v":-25.3},{"p":12,"s":"h","t":-21.5,"v":-24.5},{"p":12,"s":"h","t":-19.5,"v":-25.5},{"p":12,"s":"h","t":-18,"v":-29},{"p":12,"s":"h","t":-16.8,"v":-34},{"p":12,"s":"h","t":-16,"v":-38.5},{"p":12,"s":"h","t":-15.3,"v":-34},{"p":12,"s":"h","t":-14.3,"v":-28},{"p":12,"s":"h","t":-13,"v":-23.5},{"p":12,"s":"h","t":-11.5,"v":-21.4},{"p":12,"s":"h","t":-10.3,"v":-21},{"p":12,"s":"h","t":-9,"v":-21.6},{"p":12,"s":"h","t":-7.5,"v":-23.5},{"p":12,"s":"h","t":-6,"v":-26.5},{"p":12,"s":"h","t":-4.5,"v":-31},{"p":12,"s":"h","t":-3.2,"v":-40},{"p":12,"s":"h","t":-2.8,"v":-45},{"p":12,"s":"h","t":2.8,"v":-45},{"p":12,"s":"h","t":3.2,"v":-40},{"p":12,"s":"h","t":4.5,"v":-31},{"p":12,"s":"h","t":6,"v":-27},{"p":12,"s":"h","t":7.5,"v":-24},{"p":12,"s":"h","t":9,"v":-22.3},{"p":12,"s":"h","t":10.2,"v":-21.8},{"p":12,"s":"h","t":11.5,"v":-22.3},{"p":12,"s":"h","t":13,"v":-24.5},{"p":12,"s":"h","t":14.5,"v":-30},{"p":12,"s":"h","t":15.3,"v":-36},{"p":12,"s":"h","t":16,"v":-33.5},{"p":12,"s":"h","t":17.5,"v":-28},{"p":12,"s":"h","t":19,"v":-25.5},{"p":12,"s":"h","t":20.8,"v":-24.4},{"p":12,"s":"h","t":22.5,"v":-25.2},{"p":12,"s":"h","t":24.5,"v":-28},{"p":12,"s":"h","t":26,"v":-33},{"p":12,"s":"h","t":27.3,"v":-40},{"p":12,"s":"h","t":27.8,"v":-45},{"p":12,"s":"h","t":32.3,"v":-45},{"p":12,"s":"h","t":32.8,"v":-40},{"p":12,"s":"h","t":33.8,"v":-38.5},{"p":12,"s":"h","t":34.9,"v":-40},{"p":12,"s":"h","t":35.3,"v":-45},{"p":12,"s":"h","t":60,"v":-45},

{"p":16,"s":"a","t":-45,"v":-44},{"p":16,"s":"a","t":-42,"v":-41.5},{"p":16,"s":"a","t":-39,"v":-39},{"p":16,"s":"a","t":-36,"v":-37},{"p":16,"s":"a","t":-33,"v":-34.7},{"p":16,"s":"a","t":-30,"v":-32.3},{"p":16,"s":"a","t":-27,"v":-29.2},{"p":16,"s":"a","t":-24,"v":-24.8},{"p":16,"s":"a","t":-21,"v":-20.7},{"p":16,"s":"a","t":-18,"v":-17.2},{"p":16,"s":"a","t":-15,"v":-13.8},{"p":16,"s":"a","t":-12,"v":-11.1},{"p":16,"s":"a","t":-9,"v":-8.6},{"p":16,"s":"a","t":-6,"v":-7.1},{"p":16,"s":"a","t":-3,"v":-6.3},{"p":16,"s":"a","t":0,"v":-6},{"p":16,"s":"a","t":3,"v":-6.3},{"p":16,"s":"a","t":6,"v":-7.1},{"p":16,"s":"a","t":9,"v":-8.6},{"p":16,"s":"a","t":12,"v":-11.1},{"p":16,"s":"a","t":15,"v":-13.8},{"p":16,"s":"a","t":18,"v":-17.1},{"p":16,"s":"a","t":21,"v":-20.6},{"p":16,"s":"a","t":24,"v":-24.4},{"p":16,"s":"a","t":27,"v":-27.9},{"p":16,"s":"a","t":30,"v":-31},{"p":16,"s":"a","t":32.2,"v":-33.6},{"p":16,"s":"a","t":35,"v":-35.8},{"p":16,"s":"a","t":38,"v":-38.3},{"p":16,"s":"a","t":40,"v":-39.8},{"p":16,"s":"a","t":42,"v":-41.5},{"p":16,"s":"a","t":45,"v":-44},

{"p":16,"s":"b","t":-45,"v":-44.5},{"p":16,"s":"b","t":-42,"v":-41.8},{"p":16,"s":"b","t":-39,"v":-39.2},{"p":16,"s":"b","t":-36,"v":-37.1},{"p":16,"s":"b","t":-33,"v":-34.8},{"p":16,"s":"b","t":-30,"v":-32.4},{"p":16,"s":"b","t":-27,"v":-29.3},{"p":16,"s":"b","t":-24,"v":-24.9},{"p":16,"s":"b","t":-21,"v":-20.8},{"p":16,"s":"b","t":-18,"v":-17.3},{"p":16,"s":"b","t":-15,"v":-13.9},{"p":16,"s":"b","t":-12,"v":-11.2},{"p":16,"s":"b","t":-9,"v":-8.7},{"p":16,"s":"b","t":-6,"v":-7.2},{"p":16,"s":"b","t":-3,"v":-6.35},{"p":16,"s":"b","t":0,"v":-6.05},{"p":16,"s":"b","t":3,"v":-6.35},{"p":16,"s":"b","t":6,"v":-7.2},{"p":16,"s":"b","t":9,"v":-8.7},{"p":16,"s":"b","t":12,"v":-11.2},{"p":16,"s":"b","t":15,"v":-13.9},{"p":16,"s":"b","t":18,"v":-17.2},{"p":16,"s":"b","t":21,"v":-20.7},{"p":16,"s":"b","t":24,"v":-24.5},{"p":16,"s":"b","t":27,"v":-28},{"p":16,"s":"b","t":30,"v":-31.2},{"p":16,"s":"b","t":33,"v":-34.2},{"p":16,"s":"b","t":36,"v":-36.8},{"p":16,"s":"b","t":39,"v":-39.3},{"p":16,"s":"b","t":42,"v":-41.8},{"p":16,"s":"b","t":45,"v":-44.5},

{"p":16,"s":"c","t":-60,"v":-44},{"p":16,"s":"c","t":-57,"v":-40},{"p":16,"s":"c","t":-55,"v":-38.4},{"p":16,"s":"c","t":-52.7,"v":-37.2},{"p":16,"s":"c","t":-50,"v":-36},{"p":16,"s":"c","t":-47,"v":-34.6},{"p":16,"s":"c","t":-45,"v":-33.1},{"p":16,"s":"c","t":-41.5,"v":-31.7},{"p":16,"s":"c","t":-38,"v":-30.2},{"p":16,"s":"c","t":-36,"v":-29.3},{"p":16,"s":"c","t":-33,"v":-28.4},{"p":16,"s":"c","t":-29.5,"v":-26.9},{"p":16,"s":"c","t":-27,"v":-25.6},{"p":16,"s":"c","t":-24.4,"v":-24.6},{"p":16,"s":"c","t":-22,"v":-24},{"p":16,"s":"c","t":-18.8,"v":-23.7},{"p":16,"s":"c","t":-15,"v":-24.5},{"p":16,"s":"c","t":-12.4,"v":-25.4},{"p":16,"s":"c","t":-9.8,"v":-26.9},{"p":16,"s":"c","t":-7.2,"v":-30.2},{"p":16,"s":"c","t":-5.5,"v":-35},{"p":16,"s":"c","t":-5,"v":-40},{"p":16,"s":"c","t":-4.6,"v":-45},{"p":16,"s":"c","t":3.6,"v":-45},{"p":16,"s":"c","t":3.9,"v":-40},{"p":16,"s":"c","t":5,"v":-35},{"p":16,"s":"c","t":7.3,"v":-30.2},{"p":16,"s":"c","t":9,"v":-27.6},{"p":16,"s":"c","t":10.7,"v":-25.9},{"p":16,"s":"c","t":14,"v":-24.3},{"p":16,"s":"c","t":18.5,"v":-23.5},{"p":16,"s":"c","t":22.7,"v":-24.4},{"p":16,"s":"c","t":26.2,"v":-25.9},{"p":16,"s":"c","t":30,"v":-26.9},{"p":16,"s":"c","t":33,"v":-27.8},{"p":16,"s":"c","t":36,"v":-29},{"p":16,"s":"c","t":39,"v":-30.2},{"p":16,"s":"c","t":42,"v":-31.9},{"p":16,"s":"c","t":45,"v":-33.6},{"p":16,"s":"c","t":48,"v":-35.3},{"p":16,"s":"c","t":50.2,"v":-36.5},{"p":16,"s":"c","t":52.5,"v":-38},{"p":16,"s":"c","t":54.5,"v":-39.4},{"p":16,"s":"c","t":56,"v":-41},{"p":16,"s":"c","t":58,"v":-43},

{"p":16,"s":"d","t":-60,"v":-44},{"p":16,"s":"d","t":-57,"v":-40.2},{"p":16,"s":"d","t":-55,"v":-38.6},{"p":16,"s":"d","t":-52.7,"v":-37.4},{"p":16,"s":"d","t":-50,"v":-36.2},{"p":16,"s":"d","t":-47,"v":-34.8},{"p":16,"s":"d","t":-45,"v":-33.3},{"p":16,"s":"d","t":-41.5,"v":-31.9},{"p":16,"s":"d","t":-38,"v":-30.3},{"p":16,"s":"d","t":-36,"v":-29.4},{"p":16,"s":"d","t":-33,"v":-28.4},{"p":16,"s":"d","t":-29.5,"v":-26.6},{"p":16,"s":"d","t":-27,"v":-25.2},{"p":16,"s":"d","t":-24.4,"v":-24},{"p":16,"s":"d","t":-22,"v":-23.2},{"p":16,"s":"d","t":-18.4,"v":-22.7},{"p":16,"s":"d","t":-15,"v":-23.3},{"p":16,"s":"d","t":-11.5,"v":-24.4},{"p":16,"s":"d","t":-8.1,"v":-26.9},{"p":16,"s":"d","t":-5.5,"v":-31.2},{"p":16,"s":"d","t":-3.8,"v":-36.5},{"p":16,"s":"d","t":-2.9,"v":-40},{"p":16,"s":"d","t":-2.5,"v":-45},{"p":16,"s":"d","t":5,"v":-45},{"p":16,"s":"d","t":5.6,"v":-40},{"p":16,"s":"d","t":7,"v":-34},{"p":16,"s":"d","t":9,"v":-31.2},{"p":16,"s":"d","t":11,"v":-28.8},{"p":16,"s":"d","t":13.3,"v":-27.7},{"p":16,"s":"d","t":16,"v":-25.8},{"p":16,"s":"d","t":19.3,"v":-24.7},{"p":16,"s":"d","t":21.5,"v":-24.9},{"p":16,"s":"d","t":23.6,"v":-25.4},{"p":16,"s":"d","t":27,"v":-26.9},{"p":16,"s":"d","t":30,"v":-27.4},{"p":16,"s":"d","t":33,"v":-28},{"p":16,"s":"d","t":36,"v":-29.2},{"p":16,"s":"d","t":39,"v":-30.4},{"p":16,"s":"d","t":42,"v":-32},{"p":16,"s":"d","t":45,"v":-33.8},{"p":16,"s":"d","t":48,"v":-35.5},{"p":16,"s":"d","t":51,"v":-37.3},{"p":16,"s":"d","t":54,"v":-39.2},{"p":16,"s":"d","t":55,"v":-40},{"p":16,"s":"d","t":57,"v":-42},

{"p":16,"s":"e","t":-60,"v":-45},{"p":16,"s":"e","t":-56.5,"v":-42},{"p":16,"s":"e","t":-55,"v":-39.5},{"p":16,"s":"e","t":-53.5,"v":-38},{"p":16,"s":"e","t":-52,"v":-37.6},{"p":16,"s":"e","t":-50.5,"v":-38.6},{"p":16,"s":"e","t":-49,"v":-37.8},{"p":16,"s":"e","t":-47.5,"v":-36.8},{"p":16,"s":"e","t":-46,"v":-35.8},{"p":16,"s":"e","t":-44.5,"v":-36.5},{"p":16,"s":"e","t":-43,"v":-38.5},{"p":16,"s":"e","t":-42.3,"v":-40},{"p":16,"s":"e","t":-42,"v":-45},{"p":16,"s":"e","t":-40,"v":-45},{"p":16,"s":"e","t":-39.3,"v":-40},{"p":16,"s":"e","t":-38,"v":-36.5},{"p":16,"s":"e","t":-36.5,"v":-35},{"p":16,"s":"e","t":-35,"v":-35.3},{"p":16,"s":"e","t":-33.5,"v":-36.5},{"p":16,"s":"e","t":-32.5,"v":-38.5},{"p":16,"s":"e","t":-32,"v":-40},{"p":16,"s":"e","t":-31.7,"v":-45},{"p":16,"s":"e","t":-30.5,"v":-45},{"p":16,"s":"e","t":-30,"v":-40},{"p":16,"s":"e","t":-29,"v":-34},{"p":16,"s":"e","t":-27.8,"v":-30.5},{"p":16,"s":"e","t":-26.2,"v":-29.3},{"p":16,"s":"e","t":-24.5,"v":-30.5},{"p":16,"s":"e","t":-23.2,"v":-31.8},{"p":16,"s":"e","t":-21.8,"v":-32.6},{"p":16,"s":"e","t":-20.5,"v":-31.7},{"p":16,"s":"e","t":-19.3,"v":-33},{"p":16,"s":"e","t":-18,"v":-35.2},{"p":16,"s":"e","t":-17,"v":-38},{"p":16,"s":"e","t":-16.5,"v":-40},{"p":16,"s":"e","t":-16.2,"v":-45},{"p":16,"s":"e","t":-14,"v":-45},{"p":16,"s":"e","t":-13.8,"v":-40},{"p":16,"s":"e","t":-13.2,"v":-32},{"p":16,"s":"e","t":-12.2,"v":-25},{"p":16,"s":"e","t":-11,"v":-20.6},{"p":16,"s":"e","t":-9.5,"v":-17},{"p":16,"s":"e","t":-8,"v":-13.8},{"p":16,"s":"e","t":-6.5,"v":-9.8},{"p":16,"s":"e","t":-5,"v":-6.3},{"p":16,"s":"e","t":-3.4,"v":-3},{"p":16,"s":"e","t":-1.7,"v":-0.8},{"p":16,"s":"e","t":0,"v":0},{"p":16,"s":"e","t":1.7,"v":-0.8},{"p":16,"s":"e","t":3.4,"v":-3},{"p":16,"s":"e","t":5,"v":-6.3},{"p":16,"s":"e","t":6.5,"v":-9.8},{"p":16,"s":"e","t":8,"v":-13.8},{"p":16,"s":"e","t":9.5,"v":-17},{"p":16,"s":"e","t":11,"v":-20.6},{"p":16,"s":"e","t":12.2,"v":-25},{"p":16,"s":"e","t":13.2,"v":-32},{"p":16,"s":"e","t":13.8,"v":-40},{"p":16,"s":"e","t":14,"v":-45},{"p":16,"s":"e","t":15.5,"v":-45},{"p":16,"s":"e","t":16,"v":-40},{"p":16,"s":"e","t":17,"v":-34},{"p":16,"s":"e","t":18.5,"v":-31.7},{"p":16,"s":"e","t":20,"v":-32.5},{"p":16,"s":"e","t":21,"v":-32.2},{"p":16,"s":"e","t":22.5,"v":-31},{"p":16,"s":"e","t":24.5,"v":-29.8},{"p":16,"s":"e","t":26.2,"v":-29.4},{"p":16,"s":"e","t":27.9,"v":-31.7},{"p":16,"s":"e","t":29.5,"v":-35},{"p":16,"s":"e","t":31.3,"v":-36.5},{"p":16,"s":"e","t":33,"v":-34.6},{"p":16,"s":"e","t":34.8,"v":-36},{"p":16,"s":"e","t":35.8,"v":-40},{"p":16,"s":"e","t":36.2,"v":-45},{"p":16,"s":"e","t":39.5,"v":-45},{"p":16,"s":"e","t":40.2,"v":-40},{"p":16,"s":"e","t":41.6,"v":-37.5},{"p":16,"s":"e","t":43.3,"v":-36.5},{"p":16,"s":"e","t":45,"v":-37.5},{"p":16,"s":"e","t":46.8,"v":-38.9},{"p":16,"s":"e","t":48.5,"v":-38},{"p":16,"s":"e","t":50.2,"v":-37.5},{"p":16,"s":"e","t":52,"v":-38.5},{"p":16,"s":"e","t":54.3,"v":-40},{"p":16,"s":"e","t":55,"v":-45},{"p":16,"s":"e","t":60,"v":-45},

{"p":16,"s":"f","t":-60,"v":-40},{"p":16,"s":"f","t":-57,"v":-36.5},{"p":16,"s":"f","t":-55,"v":-38},{"p":16,"s":"f","t":-53,"v":-40},{"p":16,"s":"f","t":-52.5,"v":-45},{"p":16,"s":"f","t":-50.5,"v":-45},{"p":16,"s":"f","t":-49,"v":-40},{"p":16,"s":"f","t":-47,"v":-35.5},{"p":16,"s":"f","t":-45.5,"v":-33.5},{"p":16,"s":"f","t":-44,"v":-35},{"p":16,"s":"f","t":-42.5,"v":-40},{"p":16,"s":"f","t":-42,"v":-45},{"p":16,"s":"f","t":-38.5,"v":-45},{"p":16,"s":"f","t":-37,"v":-40},{"p":16,"s":"f","t":-35.5,"v":-35.5},{"p":16,"s":"f","t":-34,"v":-34.3},{"p":16,"s":"f","t":-32.5,"v":-36.5},{"p":16,"s":"f","t":-31.5,"v":-40},{"p":16,"s":"f","t":-31,"v":-45},{"p":16,"s":"f","t":-29.5,"v":-45},{"p":16,"s":"f","t":-28.8,"v":-35},{"p":16,"s":"f","t":-27.5,"v":-26},{"p":16,"s":"f","t":-26,"v":-23},{"p":16,"s":"f","t":-24.5,"v":-24.5},{"p":16,"s":"f","t":-23,"v":-29},{"p":16,"s":"f","t":-22,"v":-35},{"p":16,"s":"f","t":-21.5,"v":-40},{"p":16,"s":"f","t":-21.2,"v":-45},{"p":16,"s":"f","t":-19.5,"v":-45},{"p":16,"s":"f","t":-19,"v":-38},{"p":16,"s":"f","t":-18,"v":-33.5},{"p":16,"s":"f","t":-17,"v":-32.5},{"p":16,"s":"f","t":-16,"v":-34},{"p":16,"s":"f","t":-15,"v":-40},{"p":16,"s":"f","t":-14.7,"v":-45},{"p":16,"s":"f","t":-14.2,"v":-45},{"p":16,"s":"f","t":-13.8,"v":-40},{"p":16,"s":"f","t":-13.2,"v":-32},{"p":16,"s":"f","t":-12.2,"v":-25},{"p":16,"s":"f","t":-11,"v":-20.6},{"p":16,"s":"f","t":-9.5,"v":-17.1},{"p":16,"s":"f","t":-8,"v":-13.9},{"p":16,"s":"f","t":-6.5,"v":-9.9},{"p":16,"s":"f","t":-5,"v":-6.4},{"p":16,"s":"f","t":-3.4,"v":-3.05},{"p":16,"s":"f","t":-1.7,"v":-0.85},{"p":16,"s":"f","t":0,"v":-0.05},{"p":16,"s":"f","t":1.7,"v":-0.85},{"p":16,"s":"f","t":3.4,"v":-3.05},{"p":16,"s":"f","t":5,"v":-6.4},{"p":16,"s":"f","t":6.5,"v":-9.9},{"p":16,"s":"f","t":8,"v":-13.9},{"p":16,"s":"f","t":9.5,"v":-17.1},{"p":16,"s":"f","t":11,"v":-20.6},{"p":16,"s":"f","t":12.2,"v":-25},{"p":16,"s":"f","t":13.2,"v":-32},{"p":16,"s":"f","t":13.8,"v":-40},{"p":16,"s":"f","t":14.2,"v":-45},{"p":16,"s":"f","t":14.7,"v":-45},{"p":16,"s":"f","t":15.2,"v":-40},{"p":16,"s":"f","t":16.3,"v":-34},{"p":16,"s":"f","t":17.3,"v":-32.5},{"p":16,"s":"f","t":18.2,"v":-33.5},{"p":16,"s":"f","t":19,"v":-38},{"p":16,"s":"f","t":19.5,"v":-45},{"p":16,"s":"f","t":21.2,"v":-45},{"p":16,"s":"f","t":21.6,"v":-40},{"p":16,"s":"f","t":22.3,"v":-33},{"p":16,"s":"f","t":23.5,"v":-26.5},{"p":16,"s":"f","t":25.4,"v":-23},{"p":16,"s":"f","t":27,"v":-25},{"p":16,"s":"f","t":28.3,"v":-30},{"p":16,"s":"f","t":29.2,"v":-40},{"p":16,"s":"f","t":29.5,"v":-45},{"p":16,"s":"f","t":31,"v":-45},{"p":16,"s":"f","t":31.7,"v":-40},{"p":16,"s":"f","t":33,"v":-36.2},{"p":16,"s":"f","t":34.6,"v":-35.5},{"p":16,"s":"f","t":36,"v":-37.5},{"p":16,"s":"f","t":37,"v":-40},{"p":16,"s":"f","t":37.4,"v":-45},{"p":16,"s":"f","t":41,"v":-45},{"p":16,"s":"f","t":42,"v":-40},{"p":16,"s":"f","t":43.5,"v":-36},{"p":16,"s":"f","t":45.5,"v":-35},{"p":16,"s":"f","t":47.5,"v":-38},{"p":16,"s":"f","t":48.8,"v":-40},{"p":16,"s":"f","t":49.2,"v":-45},{"p":16,"s":"f","t":50.5,"v":-45},{"p":16,"s":"f","t":51.5,"v":-40},{"p":16,"s":"f","t":53,"v":-37},{"p":16,"s":"f","t":55,"v":-36.8},{"p":16,"s":"f","t":57,"v":-39},{"p":16,"s":"f","t":58,"v":-40},{"p":16,"s":"f","t":58.5,"v":-45},

{"p":16,"s":"g","t":-60,"v":-45},{"p":16,"s":"g","t":-57,"v":-45},{"p":16,"s":"g","t":-56,"v":-40},{"p":16,"s":"g","t":-54.5,"v":-37.3},{"p":16,"s":"g","t":-53,"v":-40},{"p":16,"s":"g","t":-52.5,"v":-45},{"p":16,"s":"g","t":-47,"v":-45},{"p":16,"s":"g","t":-46.3,"v":-40},{"p":16,"s":"g","t":-44.5,"v":-33.8},{"p":16,"s":"g","t":-43,"v":-35.5},{"p":16,"s":"g","t":-42,"v":-40},{"p":16,"s":"g","t":-41.5,"v":-45},{"p":16,"s":"g","t":-35.5,"v":-45},{"p":16,"s":"g","t":-34.8,"v":-40},{"p":16,"s":"g","t":-33.5,"v":-36.5},{"p":16,"s":"g","t":-32,"v":-37.5},{"p":16,"s":"g","t":-31,"v":-40},{"p":16,"s":"g","t":-30.7,"v":-45},{"p":16,"s":"g","t":-29,"v":-45},{"p":16,"s":"g","t":-28.3,"v":-36},{"p":16,"s":"g","t":-27,"v":-29},{"p":16,"s":"g","t":-25.5,"v":-25.5},{"p":16,"s":"g","t":-24,"v":-26},{"p":16,"s":"g","t":-22.5,"v":-29},{"p":16,"s":"g","t":-21,"v":-35},{"p":16,"s":"g","t":-20.3,"v":-40},{"p":16,"s":"g","t":-20,"v":-45},{"p":16,"s":"g","t":-18,"v":-45},{"p":16,"s":"g","t":-17.5,"v":-38},{"p":16,"s":"g","t":-16.5,"v":-30},{"p":16,"s":"g","t":-15.2,"v":-26.5},{"p":16,"s":"g","t":-14,"v":-27.5},{"p":16,"s":"g","t":-12.5,"v":-32},{"p":16,"s":"g","t":-11.5,"v":-37},{"p":16,"s":"g","t":-10.5,"v":-34},{"p":16,"s":"g","t":-9.2,"v":-27.5},{"p":16,"s":"g","t":-8,"v":-22.5},{"p":16,"s":"g","t":-6.8,"v":-19.7},{"p":16,"s":"g","t":-5.7,"v":-19},{"p":16,"s":"g","t":-4.6,"v":-19.6},{"p":16,"s":"g","t":-3.5,"v":-22},{"p":16,"s":"g","t":-2.5,"v":-27},{"p":16,"s":"g","t":-1.7,"v":-35},{"p":16,"s":"g","t":-1.3,"v":-40},{"p":16,"s":"g","t":-1,"v":-45},{"p":16,"s":"g","t":1,"v":-45},{"p":16,"s":"g","t":1.3,"v":-40},{"p":16,"s":"g","t":1.8,"v":-34},{"p":16,"s":"g","t":2.6,"v":-26},{"p":16,"s":"g","t":3.6,"v":-21.5},{"p":16,"s":"g","t":4.6,"v":-19.5},{"p":16,"s":"g","t":5.7,"v":-18.9},{"p":16,"s":"g","t":6.8,"v":-19.6},{"p":16,"s":"g","t":7.8,"v":-22},{"p":16,"s":"g","t":9,"v":-27},{"p":16,"s":"g","t":10.2,"v":-34},{"p":16,"s":"g","t":11,"v":-38},{"p":16,"s":"g","t":12.3,"v":-31},{"p":16,"s":"g","t":13.5,"v":-27.5},{"p":16,"s":"g","t":14.8,"v":-25.5},{"p":16,"s":"g","t":16,"v":-27},{"p":16,"s":"g","t":17.2,"v":-31},{"p":16,"s":"g","t":18.3,"v":-40},{"p":16,"s":"g","t":18.6,"v":-45},{"p":16,"s":"g","t":20.5,"v":-45},{"p":16,"s":"g","t":21,"v":-40},{"p":16,"s":"g","t":22,"v":-31},{"p":16,"s":"g","t":23.3,"v":-25.5},{"p":16,"s":"g","t":24.7,"v":-23},{"p":16,"s":"g","t":26.2,"v":-24.5},{"p":16,"s":"g","t":27.4,"v":-29},{"p":16,"s":"g","t":28.3,"v":-40},{"p":16,"s":"g","t":28.6,"v":-45},{"p":16,"s":"g","t":32,"v":-45},{"p":16,"s":"g","t":32.7,"v":-40},{"p":16,"s":"g","t":34,"v":-36},{"p":16,"s":"g","t":35.3,"v":-35.5},{"p":16,"s":"g","t":36.5,"v":-38},{"p":16,"s":"g","t":37.2,"v":-40},{"p":16,"s":"g","t":37.5,"v":-45},{"p":16,"s":"g","t":43,"v":-45},{"p":16,"s":"g","t":43.6,"v":-40},{"p":16,"s":"g","t":45,"v":-35.2},{"p":16,"s":"g","t":46.5,"v":-34},{"p":16,"s":"g","t":48,"v":-36.5},{"p":16,"s":"g","t":49,"v":-40},{"p":16,"s":"g","t":49.3,"v":-45},{"p":16,"s":"g","t":51.5,"v":-45},{"p":16,"s":"g","t":52.3,"v":-40},{"p":16,"s":"g","t":53.8,"v":-36.5},{"p":16,"s":"g","t":55,"v":-37.5},{"p":16,"s":"g","t":56.5,"v":-40},{"p":16,"s":"g","t":57,"v":-45},{"p":16,"s":"g","t":60,"v":-45},

{"p":16,"s":"h","t":-60,"v":-45},{"p":16,"s":"h","t":-56.5,"v":-45},{"p":16,"s":"h","t":-55.5,"v":-40},{"p":16,"s":"h","t":-54,"v":-37.3},{"p":16,"s":"h","t":-52.5,"v":-38.5},{"p":16,"s":"h","t":-51.5,"v":-40},{"p":16,"s":"h","t":-51,"v":-45},{"p":16,"s":"h","t":-48,"v":-45},{"p":16,"s":"h","t":-47,"v":-40},{"p":16,"s":"h","t":-45.5,"v":-34.5},{"p":16,"s":"h","t":-44,"v":-35.5},{"p":16,"s":"h","t":-43,"v":-40},{"p":16,"s":"h","t":-42.5,"v":-45},{"p":16,"s":"h","t":-36,"v":-45},{"p":16,"s":"h","t":-35,"v":-40},{"p":16,"s":"h","t":-33.5,"v":-37},{"p":16,"s":"h","t":-32,"v":-40},{"p":16,"s":"h","t":-31.5,"v":-45},{"p":16,"s":"h","t":-29,"v":-45},{"p":16,"s":"h","t":-28,"v":-36},{"p":16,"s":"h","t":-26.8,"v":-30},{"p":16,"s":"h","t":-25,"v":-26.8},{"p":16,"s":"h","t":-23.5,"v":-25.7},{"p":16,"s":"h","t":-22,"v":-27},{"p":16,"s":"h","t":-21,"v":-31},{"p":16,"s":"h","t":-20,"v":-40},{"p":16,"s":"h","t":-19.7,"v":-45},{"p":16,"s":"h","t":-17.5,"v":-45},{"p":16,"s":"h","t":-17,"v":-38},{"p":16,"s":"h","t":-15.8,"v":-31},{"p":16,"s":"h","t":-14.5,"v":-28},{"p":16,"s":"h","t":-13.2,"v":-29},{"p":16,"s":"h","t":-12,"v":-33},{"p":16,"s":"h","t":-11,"v":-36},{"p":16,"s":"h","t":-10,"v":-33},{"p":16,"s":"h","t":-9,"v":-26.5},{"p":16,"s":"h","t":-7.5,"v":-21.5},{"p":16,"s":"h","t":-6.5,"v":-19},{"p":16,"s":"h","t":-5.5,"v":-18.3},{"p":16,"s":"h","t":-4.5,"v":-18.8},{"p":16,"s":"h","t":-3.5,"v":-21},{"p":16,"s":"h","t":-2.5,"v":-26},{"p":16,"s":"h","t":-1.5,"v":-35},{"p":16,"s":"h","t":-1,"v":-40},{"p":16,"s":"h","t":-0.7,"v":-45},{"p":16,"s":"h","t":0.7,"v":-45},{"p":16,"s":"h","t":1,"v":-40},{"p":16,"s":"h","t":1.5,"v":-34},{"p":16,"s":"h","t":2.5,"v":-25},{"p":16,"s":"h","t":3.5,"v":-20.5},{"p":16,"s":"h","t":4.5,"v":-18.5},{"p":16,"s":"h","t":5.5,"v":-18.2},{"p":16,"s":"h","t":6.5,"v":-18.9},{"p":16,"s":"h","t":7.5,"v":-21.5},{"p":16,"s":"h","t":8.7,"v":-26.5},{"p":16,"s":"h","t":9.8,"v":-32},{"p":16,"s":"h","t":10.8,"v":-35},{"p":16,"s":"h","t":12,"v":-31},{"p":16,"s":"h","t":13.3,"v":-27.5},{"p":16,"s":"h","t":14.5,"v":-26.5},{"p":16,"s":"h","t":15.5,"v":-28},{"p":16,"s":"h","t":16.5,"v":-32},{"p":16,"s":"h","t":17.3,"v":-40},{"p":16,"s":"h","t":17.6,"v":-45},{"p":16,"s":"h","t":19.5,"v":-45},{"p":16,"s":"h","t":20,"v":-40},{"p":16,"s":"h","t":21.3,"v":-30},{"p":16,"s":"h","t":22.5,"v":-26.5},{"p":16,"s":"h","t":24,"v":-25.5},{"p":16,"s":"h","t":25.5,"v":-28},{"p":16,"s":"h","t":26.8,"v":-35},{"p":16,"s":"h","t":27.5,"v":-40},{"p":16,"s":"h","t":27.8,"v":-45},{"p":16,"s":"h","t":31.5,"v":-45},{"p":16,"s":"h","t":32.2,"v":-40},{"p":16,"s":"h","t":33.5,"v":-36.5},{"p":16,"s":"h","t":35,"v":-38},{"p":16,"s":"h","t":36,"v":-40},{"p":16,"s":"h","t":36.3,"v":-45},{"p":16,"s":"h","t":42,"v":-45},{"p":16,"s":"h","t":42.7,"v":-40},{"p":16,"s":"h","t":44.2,"v":-35.5},{"p":16,"s":"h","t":45.5,"v":-35},{"p":16,"s":"h","t":47,"v":-38},{"p":16,"s":"h","t":48,"v":-40},{"p":16,"s":"h","t":48.3,"v":-45},{"p":16,"s":"h","t":52,"v":-45},{"p":16,"s":"h","t":52.7,"v":-40},{"p":16,"s":"h","t":54,"v":-37.5},{"p":16,"s":"h","t":55.5,"v":-39},{"p":16,"s":"h","t":56,"v":-40},{"p":16,"s":"h","t":56.3,"v":-45},{"p":16,"s":"h","t":60,"v":-45},

{"p":20,"s":"a","t":-36,"v":-45},{"p":20,"s":"a","t":-34,"v":-42.5},{"p":20,"s":"a","t":-32,"v":-39.8},{"p":20,"s":"a","t":-30,"v":-37.3},{"p":20,"s":"a","t":-28,"v":-34.9},{"p":20,"s":"a","t":-26,"v":-32.4},{"p":20,"s":"a","t":-24,"v":-29.6},{"p":20,"s":"a","t":-22,"v":-26.6},{"p":20,"s":"a","t":-20,"v":-23.4},{"p":20,"s":"a","t":-18,"v":-20.3},{"p":20,"s":"a","t":-16,"v":-17.4},{"p":20,"s":"a","t":-14,"v":-14.7},{"p":20,"s":"a","t":-12,"v":-12.2},{"p":20,"s":"a","t":-10,"v":-9.9},{"p":20,"s":"a","t":-8,"v":-7.9},{"p":20,"s":"a","t":-6,"v":-6.4},{"p":20,"s":"a","t":-4,"v":-5.3},{"p":20,"s":"a","t":-2,"v":-4.85},{"p":20,"s":"a","t":0,"v":-4.7},{"p":20,"s":"a","t":2,"v":-4.85},{"p":20,"s":"a","t":4,"v":-5.3},{"p":20,"s":"a","t":6,"v":-6.4},{"p":20,"s":"a","t":8,"v":-7.9},{"p":20,"s":"a","t":10,"v":-9.9},{"p":20,"s":"a","t":12,"v":-12.2},{"p":20,"s":"a","t":14,"v":-14.7},{"p":20,"s":"a","t":16,"v":-17.4},{"p":20,"s":"a","t":18,"v":-20.4},{"p":20,"s":"a","t":20,"v":-23.6},{"p":20,"s":"a","t":22,"v":-26.8},{"p":20,"s":"a","t":24,"v":-29.8},{"p":20,"s":"a","t":26,"v":-32.4},{"p":20,"s":"a","t":28,"v":-34.5},{"p":20,"s":"a","t":30,"v":-36.5},{"p":20,"s":"a","t":31.3,"v":-38.3},{"p":20,"s":"a","t":32.5,"v":-40.5},{"p":20,"s":"a","t":34,"v":-43},{"p":20,"s":"a","t":36,"v":-45},

{"p":20,"s":"b","t":-36,"v":-45.5},{"p":20,"s":"b","t":-34,"v":-42.5},{"p":20,"s":"b","t":-32,"v":-40},{"p":20,"s":"b","t":-30,"v":-37.5},{"p":20,"s":"b","t":-28,"v":-35},{"p":20,"s":"b","t":-26,"v":-32.5},{"p":20,"s":"b","t":-24,"v":-29.7},{"p":20,"s":"b","t":-22,"v":-26.7},{"p":20,"s":"b","t":-20,"v":-23.5},{"p":20,"s":"b","t":-18,"v":-20.4},{"p":20,"s":"b","t":-16,"v":-17.5},{"p":20,"s":"b","t":-14,"v":-14.8},{"p":20,"s":"b","t":-12,"v":-12.3},{"p":20,"s":"b","t":-10,"v":-10},{"p":20,"s":"b","t":-8,"v":-8},{"p":20,"s":"b","t":-6,"v":-6.5},{"p":20,"s":"b","t":-4,"v":-5.4},{"p":20,"s":"b","t":-2,"v":-4.9},{"p":20,"s":"b","t":0,"v":-4.75},{"p":20,"s":"b","t":2,"v":-4.9},{"p":20,"s":"b","t":4,"v":-5.4},{"p":20,"s":"b","t":6,"v":-6.5},{"p":20,"s":"b","t":8,"v":-8},{"p":20,"s":"b","t":10,"v":-10},{"p":20,"s":"b","t":12,"v":-12.3},{"p":20,"s":"b","t":14,"v":-14.8},{"p":20,"s":"b","t":16,"v":-17.5},{"p":20,"s":"b","t":18,"v":-20.5},{"p":20,"s":"b","t":20,"v":-23.7},{"p":20,"s":"b","t":22,"v":-26.9},{"p":20,"s":"b","t":24,"v":-30},{"p":20,"s":"b","t":26,"v":-32.8},{"p":20,"s":"b","t":28,"v":-35.3},{"p":20,"s":"b","t":30,"v":-37.7},{"p":20,"s":"b","t":32,"v":-40.3},{"p":20,"s":"b","t":34,"v":-43},{"p":20,"s":"b","t":36,"v":-45.5},

{"p":20,"s":"c","t":-52,"v":-44},{"p":20,"s":"c","t":-49.6,"v":-40},{"p":20,"s":"c","t":-47.5,"v":-37.8},{"p":20,"s":"c","t":-45.3,"v":-35.8},{"p":20,"s":"c","t":-43,"v":-34.7},{"p":20,"s":"c","t":-41,"v":-33.4},{"p":20,"s":"c","t":-38.8,"v":-31.8},{"p":20,"s":"c","t":-36.6,"v":-30},{"p":20,"s":"c","t":-33,"v":-27.4},{"p":20,"s":"c","t":-29.7,"v":-25.2},{"p":20,"s":"c","t":-26.5,"v":-23.4},{"p":20,"s":"c","t":-23.6,"v":-21.8},{"p":20,"s":"c","t":-20.5,"v":-20.4},{"p":20,"s":"c","t":-17.6,"v":-19.6},{"p":20,"s":"c","t":-14.5,"v":-20.2},{"p":20,"s":"c","t":-11.5,"v":-21.8},{"p":20,"s":"c","t":-9,"v":-24.5},{"p":20,"s":"c","t":-7.2,"v":-28.1},{"p":20,"s":"c","t":-5.5,"v":-32},{"p":20,"s":"c","t":-3.7,"v":-35.8},{"p":20,"s":"c","t":-2.9,"v":-40},{"p":20,"s":"c","t":-2.5,"v":-45},{"p":20,"s":"c","t":2.4,"v":-45},{"p":20,"s":"c","t":2.8,"v":-40},{"p":20,"s":"c","t":4,"v":-36},{"p":20,"s":"c","t":5.4,"v":-32.4},{"p":20,"s":"c","t":6.5,"v":-28.5},{"p":20,"s":"c","t":8,"v":-25.2},{"p":20,"s":"c","t":9.8,"v":-22.8},{"p":20,"s":"c","t":11.4,"v":-21.3},{"p":20,"s":"c","t":13.5,"v":-20.1},{"p":20,"s":"c","t":15.8,"v":-19.6},{"p":20,"s":"c","t":18,"v":-20},{"p":20,"s":"c","t":20.1,"v":-20.9},{"p":20,"s":"c","t":22.3,"v":-22.4},{"p":20,"s":"c","t":24.4,"v":-24.3},{"p":20,"s":"c","t":26.5,"v":-26.2},{"p":20,"s":"c","t":28.7,"v":-28.1},{"p":20,"s":"c","t":31,"v":-29.6},{"p":20,"s":"c","t":33.1,"v":-31},{"p":20,"s":"c","t":35.3,"v":-32.5},{"p":20,"s":"c","t":37.4,"v":-33.9},{"p":20,"s":"c","t":39.5,"v":-34.5},{"p":20,"s":"c","t":41.7,"v":-34.8},{"p":20,"s":"c","t":44.3,"v":-36.3},{"p":20,"s":"c","t":46.9,"v":-38.7},{"p":20,"s":"c","t":47.8,"v":-40},{"p":20,"s":"c","t":50,"v":-43},

{"p":20,"s":"d","t":-52,"v":-44},{"p":20,"s":"d","t":-49.3,"v":-40},{"p":20,"s":"d","t":-47,"v":-37.5},{"p":20,"s":"d","t":-44.5,"v":-35.5},{"p":20,"s":"d","t":-42.7,"v":-34.6},{"p":20,"s":"d","t":-40,"v":-32.5},{"p":20,"s":"d","t":-36.6,"v":-30.3},{"p":20,"s":"d","t":-33,"v":-27.8},{"p":20,"s":"d","t":-29.7,"v":-25.7},{"p":20,"s":"d","t":-26.5,"v":-23.9},{"p":20,"s":"d","t":-23.6,"v":-22.3},{"p":20,"s":"d","t":-20,"v":-20.9},{"p":20,"s":"d","t":-16.7,"v":-20.4},{"p":20,"s":"d","t":-13.5,"v":-21},{"p":20,"s":"d","t":-11,"v":-22.6},{"p":20,"s":"d","t":-8.5,"v":-25.5},{"p":20,"s":"d","t":-6.5,"v":-29.2},{"p":20,"s":"d","t":-4.7,"v":-34},{"p":20,"s":"d","t":-3.3,"v":-38},{"p":20,"s":"d","t":-2.7,"v":-40},{"p":20,"s":"d","t":-2.3,"v":-45},{"p":20,"s":"d","t":2.5,"v":-45},{"p":20,"s":"d","t":3,"v":-40},{"p":20,"s":"d","t":4.3,"v":-35.5},{"p":20,"s":"d","t":5.8,"v":-31},{"p":20,"s":"d","t":7.5,"v":-27},{"p":20,"s":"d","t":9.5,"v":-24},{"p":20,"s":"d","t":11.5,"v":-22.2},{"p":20,"s":"d","t":14,"v":-20.8},{"p":20,"s":"d","t":16.5,"v":-20.3},{"p":20,"s":"d","t":19,"v":-20.8},{"p":20,"s":"d","t":21.5,"v":-22.2},{"p":20,"s":"d","t":24,"v":-24},{"p":20,"s":"d","t":26.5,"v":-26.3},{"p":20,"s":"d","t":29,"v":-28.4},{"p":20,"s":"d","t":31.5,"v":-30.3},{"p":20,"s":"d","t":34,"v":-32},{"p":20,"s":"d","t":36.5,"v":-33.5},{"p":20,"s":"d","t":39,"v":-34.4},{"p":20,"s":"d","t":41.5,"v":-35},{"p":20,"s":"d","t":44,"v":-36.4},{"p":20,"s":"d","t":46.5,"v":-38.3},{"p":20,"s":"d","t":48.3,"v":-40},{"p":20,"s":"d","t":50,"v":-42},

{"p":20,"s":"e","t":-60,"v":-40.5},{"p":20,"s":"e","t":-59,"v":-38.2},{"p":20,"s":"e","t":-57.5,"v":-36.8},{"p":20,"s":"e","t":-56,"v":-36.4},{"p":20,"s":"e","t":-54.5,"v":-37.5},{"p":20,"s":"e","t":-53,"v":-39.5},{"p":20,"s":"e","t":-52.3,"v":-42},{"p":20,"s":"e","t":-48.5,"v":-43},{"p":20,"s":"e","t":-47,"v":-39.5},{"p":20,"s":"e","t":-45.8,"v":-36.5},{"p":20,"s":"e","t":-44.5,"v":-37.2},{"p":20,"s":"e","t":-43.3,"v":-40},{"p":20,"s":"e","t":-42.8,"v":-43},{"p":20,"s":"e","t":-37,"v":-43},{"p":20,"s":"e","t":-36,"v":-39},{"p":20,"s":"e","t":-34.5,"v":-35},{"p":20,"s":"e","t":-33.2,"v":-33.3},{"p":20,"s":"e","t":-32,"v":-34.8},{"p":20,"s":"e","t":-31,"v":-32.5},{"p":20,"s":"e","t":-29.7,"v":-28.7},{"p":20,"s":"e","t":-28.3,"v":-30.8},{"p":20,"s":"e","t":-26.8,"v":-33.8},{"p":20,"s":"e","t":-25.5,"v":-32},{"p":20,"s":"e","t":-24,"v":-27.5},{"p":20,"s":"e","t":-22.5,"v":-24.6},{"p":20,"s":"e","t":-21,"v":-23.8},{"p":20,"s":"e","t":-19.5,"v":-25.2},{"p":20,"s":"e","t":-17.8,"v":-28},{"p":20,"s":"e","t":-16,"v":-30.3},{"p":20,"s":"e","t":-14.2,"v":-28},{"p":20,"s":"e","t":-12.3,"v":-25},{"p":20,"s":"e","t":-10.6,"v":-23.8},{"p":20,"s":"e","t":-9.5,"v":-22},{"p":20,"s":"e","t":-8.5,"v":-19},{"p":20,"s":"e","t":-7.5,"v":-15.2},{"p":20,"s":"e","t":-6.5,"v":-11.5},{"p":20,"s":"e","t":-5,"v":-7},{"p":20,"s":"e","t":-3.25,"v":-3},{"p":20,"s":"e","t":-1.5,"v":-0.65},{"p":20,"s":"e","t":0,"v":0},{"p":20,"s":"e","t":1.5,"v":-0.65},{"p":20,"s":"e","t":3.25,"v":-3},{"p":20,"s":"e","t":5,"v":-7},{"p":20,"s":"e","t":6.5,"v":-11.3},{"p":20,"s":"e","t":7.5,"v":-14.8},{"p":20,"s":"e","t":8.5,"v":-18.7},{"p":20,"s":"e","t":9.7,"v":-23.3},{"p":20,"s":"e","t":11,"v":-24.2},{"p":20,"s":"e","t":12.3,"v":-25.7},{"p":20,"s":"e","t":14,"v":-28.2},{"p":20,"s":"e","t":15.8,"v":-30.3},{"p":20,"s":"e","t":17.5,"v":-27},{"p":20,"s":"e","t":19.2,"v":-24.5},{"p":20,"s":"e","t":20.5,"v":-24},{"p":20,"s":"e","t":22,"v":-25.5},{"p":20,"s":"e","t":23.5,"v":-28.5},{"p":20,"s":"e","t":25,"v":-33},{"p":20,"s":"e","t":26,"v":-35},{"p":20,"s":"e","t":27.5,"v":-31},{"p":20,"s":"e","t":29,"v":-28.5},{"p":20,"s":"e","t":30.5,"v":-30},{"p":20,"s":"e","t":32,"v":-34},{"p":20,"s":"e","t":33.2,"v":-36.5},{"p":20,"s":"e","t":34.5,"v":-35},{"p":20,"s":"e","t":35.7,"v":-40},{"p":20,"s":"e","t":36.2,"v":-43},{"p":20,"s":"e","t":42,"v":-43},{"p":20,"s":"e","t":43,"v":-40},{"p":20,"s":"e","t":44.5,"v":-37},{"p":20,"s":"e","t":46,"v":-38.5},{"p":20,"s":"e","t":47.2,"v":-40.5},{"p":20,"s":"e","t":47.6,"v":-43},{"p":20,"s":"e","t":51,"v":-43},{"p":20,"s":"e","t":52,"v":-40},{"p":20,"s":"e","t":53.5,"v":-37},{"p":20,"s":"e","t":55,"v":-36.6},{"p":20,"s":"e","t":56.5,"v":-38.3},{"p":20,"s":"e","t":57.5,"v":-40.5},{"p":20,"s":"e","t":58,"v":-43},{"p":20,"s":"e","t":60,"v":-43},

{"p":20,"s":"f","t":-60,"v":-43},{"p":20,"s":"f","t":-57,"v":-43},{"p":20,"s":"f","t":-56.5,"v":-40},{"p":20,"s":"f","t":-55,"v":-34.5},{"p":20,"s":"f","t":-53.5,"v":-35.5},{"p":20,"s":"f","t":-52.3,"v":-40},{"p":20,"s":"f","t":-52,"v":-43},{"p":20,"s":"f","t":-49.5,"v":-43},{"p":20,"s":"f","t":-48.8,"v":-40},{"p":20,"s":"f","t":-47,"v":-35},{"p":20,"s":"f","t":-45.5,"v":-34},{"p":20,"s":"f","t":-44,"v":-36},{"p":20,"s":"f","t":-43,"v":-40},{"p":20,"s":"f","t":-42.7,"v":-43},{"p":20,"s":"f","t":-39,"v":-43},{"p":20,"s":"f","t":-38.3,"v":-40},{"p":20,"s":"f","t":-36.5,"v":-32},{"p":20,"s":"f","t":-35,"v":-30.5},{"p":20,"s":"f","t":-33.5,"v":-32.5},{"p":20,"s":"f","t":-32.5,"v":-36},{"p":20,"s":"f","t":-31.8,"v":-40},{"p":20,"s":"f","t":-31.5,"v":-43},{"p":20,"s":"f","t":-30,"v":-43},{"p":20,"s":"f","t":-29.5,"v":-40},{"p":20,"s":"f","t":-28,"v":-30},{"p":20,"s":"f","t":-26.5,"v":-24.5},{"p":20,"s":"f","t":-24.5,"v":-22.5},{"p":20,"s":"f","t":-22.5,"v":-23.5},{"p":20,"s":"f","t":-21,"v":-27},{"p":20,"s":"f","t":-20,"v":-32},{"p":20,"s":"f","t":-19.5,"v":-40},{"p":20,"s":"f","t":-19.2,"v":-43},{"p":20,"s":"f","t":-18.5,"v":-43},{"p":20,"s":"f","t":-18,"v":-40},{"p":20,"s":"f","t":-17,"v":-28.5},{"p":20,"s":"f","t":-16,"v":-25.2},{"p":20,"s":"f","t":-15,"v":-26.5},{"p":20,"s":"f","t":-14,"v":-30},{"p":20,"s":"f","t":-13.5,"v":-40},{"p":20,"s":"f","t":-13.2,"v":-43},{"p":20,"s":"f","t":-12.5,"v":-43},{"p":20,"s":"f","t":-12.2,"v":-40},{"p":20,"s":"f","t":-11.5,"v":-33},{"p":20,"s":"f","t":-10.5,"v":-26},{"p":20,"s":"f","t":-9.5,"v":-22.3},{"p":20,"s":"f","t":-8.5,"v":-18.8},{"p":20,"s":"f","t":-7.5,"v":-15},{"p":20,"s":"f","t":-6.5,"v":-11.4},{"p":20,"s":"f","t":-5,"v":-7.1},{"p":20,"s":"f","t":-3.25,"v":-3.05},{"p":20,"s":"f","t":-1.5,"v":-0.7},{"p":20,"s":"f","t":0,"v":-0.05},{"p":20,"s":"f","t":1.5,"v":-0.7},{"p":20,"s":"f","t":3.25,"v":-3.05},{"p":20,"s":"f","t":5,"v":-7.1},{"p":20,"s":"f","t":6.5,"v":-11.4},{"p":20,"s":"f","t":7.5,"v":-15},{"p":20,"s":"f","t":8.5,"v":-18.8},{"p":20,"s":"f","t":9.5,"v":-22.3},{"p":20,"s":"f","t":10.5,"v":-26},{"p":20,"s":"f","t":11.5,"v":-33},{"p":20,"s":"f","t":12.2,"v":-40},{"p":20,"s":"f","t":12.5,"v":-43},{"p":20,"s":"f","t":13.2,"v":-43},{"p":20,"s":"f","t":13.5,"v":-40},{"p":20,"s":"f","t":14.2,"v":-30},{"p":20,"s":"f","t":15.3,"v":-25.5},{"p":20,"s":"f","t":16.5,"v":-25.8},{"p":20,"s":"f","t":17.5,"v":-28.5},{"p":20,"s":"f","t":18.5,"v":-33},{"p":20,"s":"f","t":19.2,"v":-40},{"p":20,"s":"f","t":19.5,"v":-43},{"p":20,"s":"f","t":20,"v":-43},{"p":20,"s":"f","t":20.5,"v":-40},{"p":20,"s":"f","t":21.5,"v":-27.5},{"p":20,"s":"f","t":23,"v":-22.6},{"p":20,"s":"f","t":24.5,"v":-22.3},{"p":20,"s":"f","t":26,"v":-24.5},{"p":20,"s":"f","t":27.5,"v":-30},{"p":20,"s":"f","t":28.5,"v":-40},{"p":20,"s":"f","t":28.8,"v":-43},{"p":20,"s":"f","t":30.5,"v":-43},{"p":20,"s":"f","t":31,"v":-40},{"p":20,"s":"f","t":32.5,"v":-32.5},{"p":20,"s":"f","t":34,"v":-30.5},{"p":20,"s":"f","t":35.5,"v":-32},{"p":20,"s":"f","t":36.8,"v":-40},{"p":20,"s":"f","t":37.1,"v":-43},{"p":20,"s":"f","t":41.5,"v":-43},{"p":20,"s":"f","t":42.3,"v":-40},{"p":20,"s":"f","t":43.8,"v":-35.5},{"p":20,"s":"f","t":45.3,"v":-34.5},{"p":20,"s":"f","t":46.8,"v":-37},{"p":20,"s":"f","t":47.8,"v":-40},{"p":20,"s":"f","t":48.1,"v":-43},{"p":20,"s":"f","t":51.5,"v":-43},{"p":20,"s":"f","t":52.2,"v":-40},{"p":20,"s":"f","t":53.6,"v":-34.2},{"p":20,"s":"f","t":55,"v":-33.8},{"p":20,"s":"f","t":56.5,"v":-36},{"p":20,"s":"f","t":57.8,"v":-40},{"p":20,"s":"f","t":58.1,"v":-43},{"p":20,"s":"f","t":60,"v":-43},

{"p":20,"s":"g","t":-60,"v":-40},{"p":20,"s":"g","t":-58.5,"v":-37},{"p":20,"s":"g","t":-57,"v":-35},{"p":20,"s":"g","t":-55.5,"v":-34},{"p":20,"s":"g","t":-54,"v":-35},{"p":20,"s":"g","t":-52.5,"v":-37.5},{"p":20,"s":"g","t":-51.5,"v":-40},{"p":20,"s":"g","t":-51,"v":-43},{"p":20,"s":"g","t":-50,"v":-43},{"p":20,"s":"g","t":-49.5,"v":-40},{"p":20,"s":"g","t":-48.5,"v":-35},{"p":20,"s":"g","t":-47.5,"v":-34},{"p":20,"s":"g","t":-46,"v":-35.5},{"p":20,"s":"g","t":-45,"v":-40},{"p":20,"s":"g","t":-44.5,"v":-43},{"p":20,"s":"g","t":-43.5,"v":-43},{"p":20,"s":"g","t":-43,"v":-40},{"p":20,"s":"g","t":-41.5,"v":-34},{"p":20,"s":"g","t":-40.3,"v":-33},{"p":20,"s":"g","t":-39,"v":-35},{"p":20,"s":"g","t":-38,"v":-40},{"p":20,"s":"g","t":-37.5,"v":-43},{"p":20,"s":"g","t":-35.5,"v":-43},{"p":20,"s":"g","t":-35,"v":-40},{"p":20,"s":"g","t":-33.5,"v":-32},{"p":20,"s":"g","t":-32,"v":-30},{"p":20,"s":"g","t":-30.5,"v":-32},{"p":20,"s":"g","t":-29.5,"v":-40},{"p":20,"s":"g","t":-29,"v":-43},{"p":20,"s":"g","t":-27,"v":-43},{"p":20,"s":"g","t":-26.5,"v":-38},{"p":20,"s":"g","t":-25.5,"v":-28},{"p":20,"s":"g","t":-24.3,"v":-23},{"p":20,"s":"g","t":-23,"v":-21.5},{"p":20,"s":"g","t":-21.7,"v":-22.3},{"p":20,"s":"g","t":-20.5,"v":-25.5},{"p":20,"s":"g","t":-19.5,"v":-31},{"p":20,"s":"g","t":-18.8,"v":-40},{"p":20,"s":"g","t":-18.5,"v":-43},{"p":20,"s":"g","t":-17.8,"v":-43},{"p":20,"s":"g","t":-17.3,"v":-36},{"p":20,"s":"g","t":-16.3,"v":-28},{"p":20,"s":"g","t":-15,"v":-25.5},{"p":20,"s":"g","t":-13.8,"v":-26},{"p":20,"s":"g","t":-12.8,"v":-30},{"p":20,"s":"g","t":-12,"v":-36},{"p":20,"s":"g","t":-11.5,"v":-40},{"p":20,"s":"g","t":-11.2,"v":-43},{"p":20,"s":"g","t":-10.9,"v":-43},{"p":20,"s":"g","t":-10.6,"v":-35},{"p":20,"s":"g","t":-9.8,"v":-24},{"p":20,"s":"g","t":-8.8,"v":-16},{"p":20,"s":"g","t":-7.7,"v":-12},{"p":20,"s":"g","t":-6.5,"v":-10.8},{"p":20,"s":"g","t":-5.5,"v":-10.9},{"p":20,"s":"g","t":-4.5,"v":-12.2},{"p":20,"s":"g","t":-3.5,"v":-15.5},{"p":20,"s":"g","t":-2.6,"v":-21},{"p":20,"s":"g","t":-1.9,"v":-29},{"p":20,"s":"g","t":-1.3,"v":-40},{"p":20,"s":"g","t":-1,"v":-43},{"p":20,"s":"g","t":1,"v":-43},{"p":20,"s":"g","t":1.3,"v":-40},{"p":20,"s":"g","t":1.9,"v":-29},{"p":20,"s":"g","t":2.6,"v":-21},{"p":20,"s":"g","t":3.5,"v":-15.5},{"p":20,"s":"g","t":4.5,"v":-12.2},{"p":20,"s":"g","t":5.5,"v":-10.9},{"p":20,"s":"g","t":6.5,"v":-10.8},{"p":20,"s":"g","t":7.7,"v":-12},{"p":20,"s":"g","t":8.8,"v":-16},{"p":20,"s":"g","t":9.8,"v":-24},{"p":20,"s":"g","t":10.6,"v":-35},{"p":20,"s":"g","t":10.9,"v":-43},{"p":20,"s":"g","t":11.2,"v":-43},{"p":20,"s":"g","t":11.5,"v":-40},{"p":20,"s":"g","t":12,"v":-36},{"p":20,"s":"g","t":12.8,"v":-30},{"p":20,"s":"g","t":13.8,"v":-26},{"p":20,"s":"g","t":15,"v":-25.5},{"p":20,"s":"g","t":16.3,"v":-28},{"p":20,"s":"g","t":17.3,"v":-36},{"p":20,"s":"g","t":17.8,"v":-43},{"p":20,"s":"g","t":18.5,"v":-43},{"p":20,"s":"g","t":18.8,"v":-40},{"p":20,"s":"g","t":19.5,"v":-31},{"p":20,"s":"g","t":20.5,"v":-25.5},{"p":20,"s":"g","t":21.7,"v":-22.3},{"p":20,"s":"g","t":23,"v":-21.5},{"p":20,"s":"g","t":24.3,"v":-23},{"p":20,"s":"g","t":25.5,"v":-28},{"p":20,"s":"g","t":26.5,"v":-38},{"p":20,"s":"g","t":27,"v":-43},{"p":20,"s":"g","t":29,"v":-43},{"p":20,"s":"g","t":29.5,"v":-40},{"p":20,"s":"g","t":30.5,"v":-32},{"p":20,"s":"g","t":32,"v":-30},{"p":20,"s":"g","t":33.5,"v":-32},{"p":20,"s":"g","t":35,"v":-40},{"p":20,"s":"g","t":35.5,"v":-43},{"p":20,"s":"g","t":37.5,"v":-43},{"p":20,"s":"g","t":38,"v":-40},{"p":20,"s":"g","t":39,"v":-35},{"p":20,"s":"g","t":40.3,"v":-33},{"p":20,"s":"g","t":41.5,"v":-34},{"p":20,"s":"g","t":43,"v":-40},{"p":20,"s":"g","t":43.5,"v":-43},{"p":20,"s":"g","t":44.5,"v":-43},{"p":20,"s":"g","t":45,"v":-40},{"p":20,"s":"g","t":46,"v":-35.5},{"p":20,"s":"g","t":47.5,"v":-34},{"p":20,"s":"g","t":48.5,"v":-35},{"p":20,"s":"g","t":49.5,"v":-40},{"p":20,"s":"g","t":50,"v":-43},{"p":20,"s":"g","t":51,"v":-43},{"p":20,"s":"g","t":51.5,"v":-40},{"p":20,"s":"g","t":52.5,"v":-37.5},{"p":20,"s":"g","t":54,"v":-35},{"p":20,"s":"g","t":55.5,"v":-34},{"p":20,"s":"g","t":57,"v":-35},{"p":20,"s":"g","t":58.5,"v":-37},{"p":20,"s":"g","t":60,"v":-40},

{"p":20,"s":"h","t":-60,"v":-38},{"p":20,"s":"h","t":-59,"v":-36},{"p":20,"s":"h","t":-57.5,"v":-35.5},{"p":20,"s":"h","t":-56,"v":-37},{"p":20,"s":"h","t":-55,"v":-34},{"p":20,"s":"h","t":-54,"v":-33.8},{"p":20,"s":"h","t":-52.5,"v":-35.5},{"p":20,"s":"h","t":-51.5,"v":-38},{"p":20,"s":"h","t":-50.5,"v":-40},{"p":20,"s":"h","t":-49.5,"v":-36},{"p":20,"s":"h","t":-48,"v":-33.9},{"p":20,"s":"h","t":-46.5,"v":-34.2},{"p":20,"s":"h","t":-45.3,"v":-33.4},{"p":20,"s":"h","t":-44,"v":-35},{"p":20,"s":"h","t":-43,"v":-30},{"p":20,"s":"h","t":-41.8,"v":-28.6},{"p":20,"s":"h","t":-40.5,"v":-30},{"p":20,"s":"h","t":-39.2,"v":-27.4},{"p":20,"s":"h","t":-38,"v":-29},{"p":20,"s":"h","t":-37,"v":-33},{"p":20,"s":"h","t":-36,"v":-37.5},{"p":20,"s":"h","t":-35,"v":-32},{"p":20,"s":"h","t":-34,"v":-26.5},{"p":20,"s":"h","t":-33,"v":-23.6},{"p":20,"s":"h","t":-32.3,"v":-23.3},{"p":20,"s":"h","t":-31.5,"v":-24},{"p":20,"s":"h","t":-30.5,"v":-28},{"p":20,"s":"h","t":-29.5,"v":-35},{"p":20,"s":"h","t":-29,"v":-40},{"p":20,"s":"h","t":-28.5,"v":-45},{"p":20,"s":"h","t":-27.5,"v":-45},{"p":20,"s":"h","t":-27,"v":-38},{"p":20,"s":"h","t":-26,"v":-30},{"p":20,"s":"h","t":-25,"v":-26},{"p":20,"s":"h","t":-24,"v":-23.5},{"p":20,"s":"h","t":-23,"v":-22.3},{"p":20,"s":"h","t":-22,"v":-22.7},{"p":20,"s":"h","t":-21,"v":-25},{"p":20,"s":"h","t":-20,"v":-30},{"p":20,"s":"h","t":-19,"v":-38},{"p":20,"s":"h","t":-18.7,"v":-45},{"p":20,"s":"h","t":-17.5,"v":-45},{"p":20,"s":"h","t":-17,"v":-38},{"p":20,"s":"h","t":-16,"v":-30},{"p":20,"s":"h","t":-15,"v":-27},{"p":20,"s":"h","t":-14,"v":-26.5},{"p":20,"s":"h","t":-13,"v":-28.5},{"p":20,"s":"h","t":-12,"v":-33},{"p":20,"s":"h","t":-11.2,"v":-38},{"p":20,"s":"h","t":-10.6,"v":-40.5},{"p":20,"s":"h","t":-10,"v":-31},{"p":20,"s":"h","t":-9.3,"v":-23},{"p":20,"s":"h","t":-8.6,"v":-17.5},{"p":20,"s":"h","t":-7.7,"v":-13},{"p":20,"s":"h","t":-6.5,"v":-10.8},{"p":20,"s":"h","t":-5.5,"v":-10.5},{"p":20,"s":"h","t":-4.5,"v":-11.5},{"p":20,"s":"h","t":-3.5,"v":-14.5},{"p":20,"s":"h","t":-2.5,"v":-20},{"p":20,"s":"h","t":-1.7,"v":-28},{"p":20,"s":"h","t":-1,"v":-40},{"p":20,"s":"h","t":-0.6,"v":-45},{"p":20,"s":"h","t":0.6,"v":-45},{"p":20,"s":"h","t":1,"v":-40},{"p":20,"s":"h","t":1.7,"v":-28},{"p":20,"s":"h","t":2.5,"v":-20},{"p":20,"s":"h","t":3.5,"v":-14.5},{"p":20,"s":"h","t":4.5,"v":-11.5},{"p":20,"s":"h","t":5.5,"v":-10.5},{"p":20,"s":"h","t":6.5,"v":-10.8},{"p":20,"s":"h","t":7.7,"v":-13},{"p":20,"s":"h","t":8.6,"v":-17.5},{"p":20,"s":"h","t":9.3,"v":-23},{"p":20,"s":"h","t":10,"v":-31},{"p":20,"s":"h","t":10.6,"v":-40.5},{"p":20,"s":"h","t":11.2,"v":-38},{"p":20,"s":"h","t":12,"v":-33},{"p":20,"s":"h","t":13,"v":-28.5},{"p":20,"s":"h","t":14,"v":-26.5},{"p":20,"s":"h","t":15,"v":-27},{"p":20,"s":"h","t":16,"v":-30},{"p":20,"s":"h","t":17,"v":-38},{"p":20,"s":"h","t":17.5,"v":-45},{"p":20,"s":"h","t":18.7,"v":-45},{"p":20,"s":"h","t":19,"v":-38},{"p":20,"s":"h","t":20,"v":-30},{"p":20,"s":"h","t":21,"v":-25},{"p":20,"s":"h","t":22,"v":-22.7},{"p":20,"s":"h","t":22.8,"v":-22.3},{"p":20,"s":"h","t":24,"v":-23.5},{"p":20,"s":"h","t":25,"v":-26},{"p":20,"s":"h","t":26,"v":-30},{"p":20,"s":"h","t":27,"v":-38},{"p":20,"s":"h","t":27.5,"v":-45},{"p":20,"s":"h","t":28.5,"v":-45},{"p":20,"s":"h","t":29,"v":-40},{"p":20,"s":"h","t":29.5,"v":-33},{"p":20,"s":"h","t":30.5,"v":-26},{"p":20,"s":"h","t":31.3,"v":-23.3},{"p":20,"s":"h","t":32.3,"v":-23.8},{"p":20,"s":"h","t":33.3,"v":-27},{"p":20,"s":"h","t":34.3,"v":-32},{"p":20,"s":"h","t":35.3,"v":-37},{"p":20,"s":"h","t":36.3,"v":-33},{"p":20,"s":"h","t":37.5,"v":-29},{"p":20,"s":"h","t":38.7,"v":-27.4},{"p":20,"s":"h","t":40,"v":-29.5},{"p":20,"s":"h","t":41.7,"v":-28.1},{"p":20,"s":"h","t":43,"v":-30.5},{"p":20,"s":"h","t":44.5,"v":-34},{"p":20,"s":"h","t":45.5,"v":-35},{"p":20,"s":"h","t":46.9,"v":-33.9},{"p":20,"s":"h","t":48.3,"v":-34.5},{"p":20,"s":"h","t":49.5,"v":-37},{"p":20,"s":"h","t":50.5,"v":-40},{"p":20,"s":"h","t":51.5,"v":-37},{"p":20,"s":"h","t":53,"v":-34.5},{"p":20,"s":"h","t":54.7,"v":-33.9},{"p":20,"s":"h","t":56,"v":-35.5},{"p":20,"s":"h","t":57.5,"v":-37.5},{"p":20,"s":"h","t":59,"v":-38},{"p":20,"s":"h","t":60,"v":-39}
]},
"facet":{"field":"p","type":"ordinal","sort":[8,12,16,20],"header":{"labelExpr":"datum.value + ' GHz'","title":null,"labelFont":"Liberation Serif","labelFontSize":20,"labelFontWeight":"bold","labelPadding":1}},
"columns":2,
"spacing":{"row":102,"column":94},
"bounds":"flush",
"resolve":{"axis":{"x":"independent","y":"independent"}},
"spec":{
"width":462,"height":277,
"layer":[
{"transform":[{"filter":"isValid(datum.t)"}],
"mark":{"type":"line","clip":true,"strokeWidth":2,"interpolate":"monotone"},
"encoding":{
"x":{"field":"t","type":"quantitative","scale":{"domain":[-60,60],"nice":false,"zero":false},"axis":{"values":[-60,-45,-30,-15,0,15,30,45,60],"title":"θ [deg.]","grid":true,"labelFont":"Liberation Serif","labelFontSize":23,"titleFont":"Liberation Serif","titleFontSize":25,"labelPadding":9,"titlePadding":9,"labelExpr":"replace(datum.label, '−', '-')"}},
"y":{"field":"v","type":"quantitative","scale":{"domain":[-40,0],"nice":false,"zero":false},"axis":{"values":[-40,-30,-20,-10,0],"title":"Normalized Pattern [dBi]","grid":true,"labelFont":"Liberation Serif","labelFontSize":23,"titleFont":"Liberation Serif","titleFontSize":25,"labelPadding":8,"titlePadding":10,"labelExpr":"replace(datum.label, '−', '-')"}},
"color":{"field":"s","type":"nominal","scale":{"domain":["a","b","c","d","e","f","g","h"],"range":["#3f3414","#3f3414","#3f3414","#3f3414","#edb120","#edb120","#edb120","#edb120"]},"legend":null},
"strokeDash":{"field":"s","type":"nominal","scale":{"domain":["a","b","c","d","e","f","g","h"],"range":[[1,0],[8,4],[8,3,2,3],[2,3],[1,0],[8,4],[8,3,2,3],[2,3]]},"legend":null}
}},
{"transform":[{"filter":"datum.s == 'L1'"}],
"mark":{"type":"rect","fill":"white","stroke":"#8f8f8f","strokeWidth":1},
"encoding":{
"x":{"datum":-59.5,"type":"quantitative","scale":{"domain":[-60,60],"nice":false,"zero":false},"axis":{"orient":"top","values":[-57,-54,-51,-48,-42,-39,-36,-33,-27,-24,-21,-18,-12,-9,-6,-3,3,6,9,12,18,21,24,27,33,36,39,42,48,51,54,57],"grid":true,"gridColor":"#eeeeee","labels":false,"ticks":false,"domain":false,"title":null}},
"x2":{"datum":-12},
"y":{"datum":-0.4,"type":"quantitative","scale":{"domain":[-40,0],"nice":false,"zero":false},"axis":{"orient":"right","values":[-38,-36,-34,-32,-28,-26,-24,-22,-18,-16,-14,-12,-8,-6,-4,-2],"grid":true,"gridColor":"#eeeeee","labels":false,"ticks":false,"domain":false,"title":null}},
"y2":{"datum":-9.9}
}},
{"transform":[{"filter":"datum.s == 'L1'"}],
"mark":{"type":"text","align":"left","baseline":"middle","font":"Liberation Sans","fontSize":25,"color":"#3d3214"},
"encoding":{"x":{"datum":-58,"type":"quantitative","axis":null},"y":{"datum":-3.3,"type":"quantitative","axis":null},"text":{"field":"txt"}}},
{"transform":[{"filter":"datum.s == 'L2'"}],
"mark":{"type":"text","align":"left","baseline":"middle","font":"Liberation Sans","fontSize":25,"color":"#efb730"},
"encoding":{"x":{"datum":-58,"type":"quantitative","axis":null},"y":{"datum":-7.6,"type":"quantitative","axis":null},"text":{"field":"txt"}}}
],
"resolve":{"axis":{"x":"independent","y":"independent"}}
}
}
